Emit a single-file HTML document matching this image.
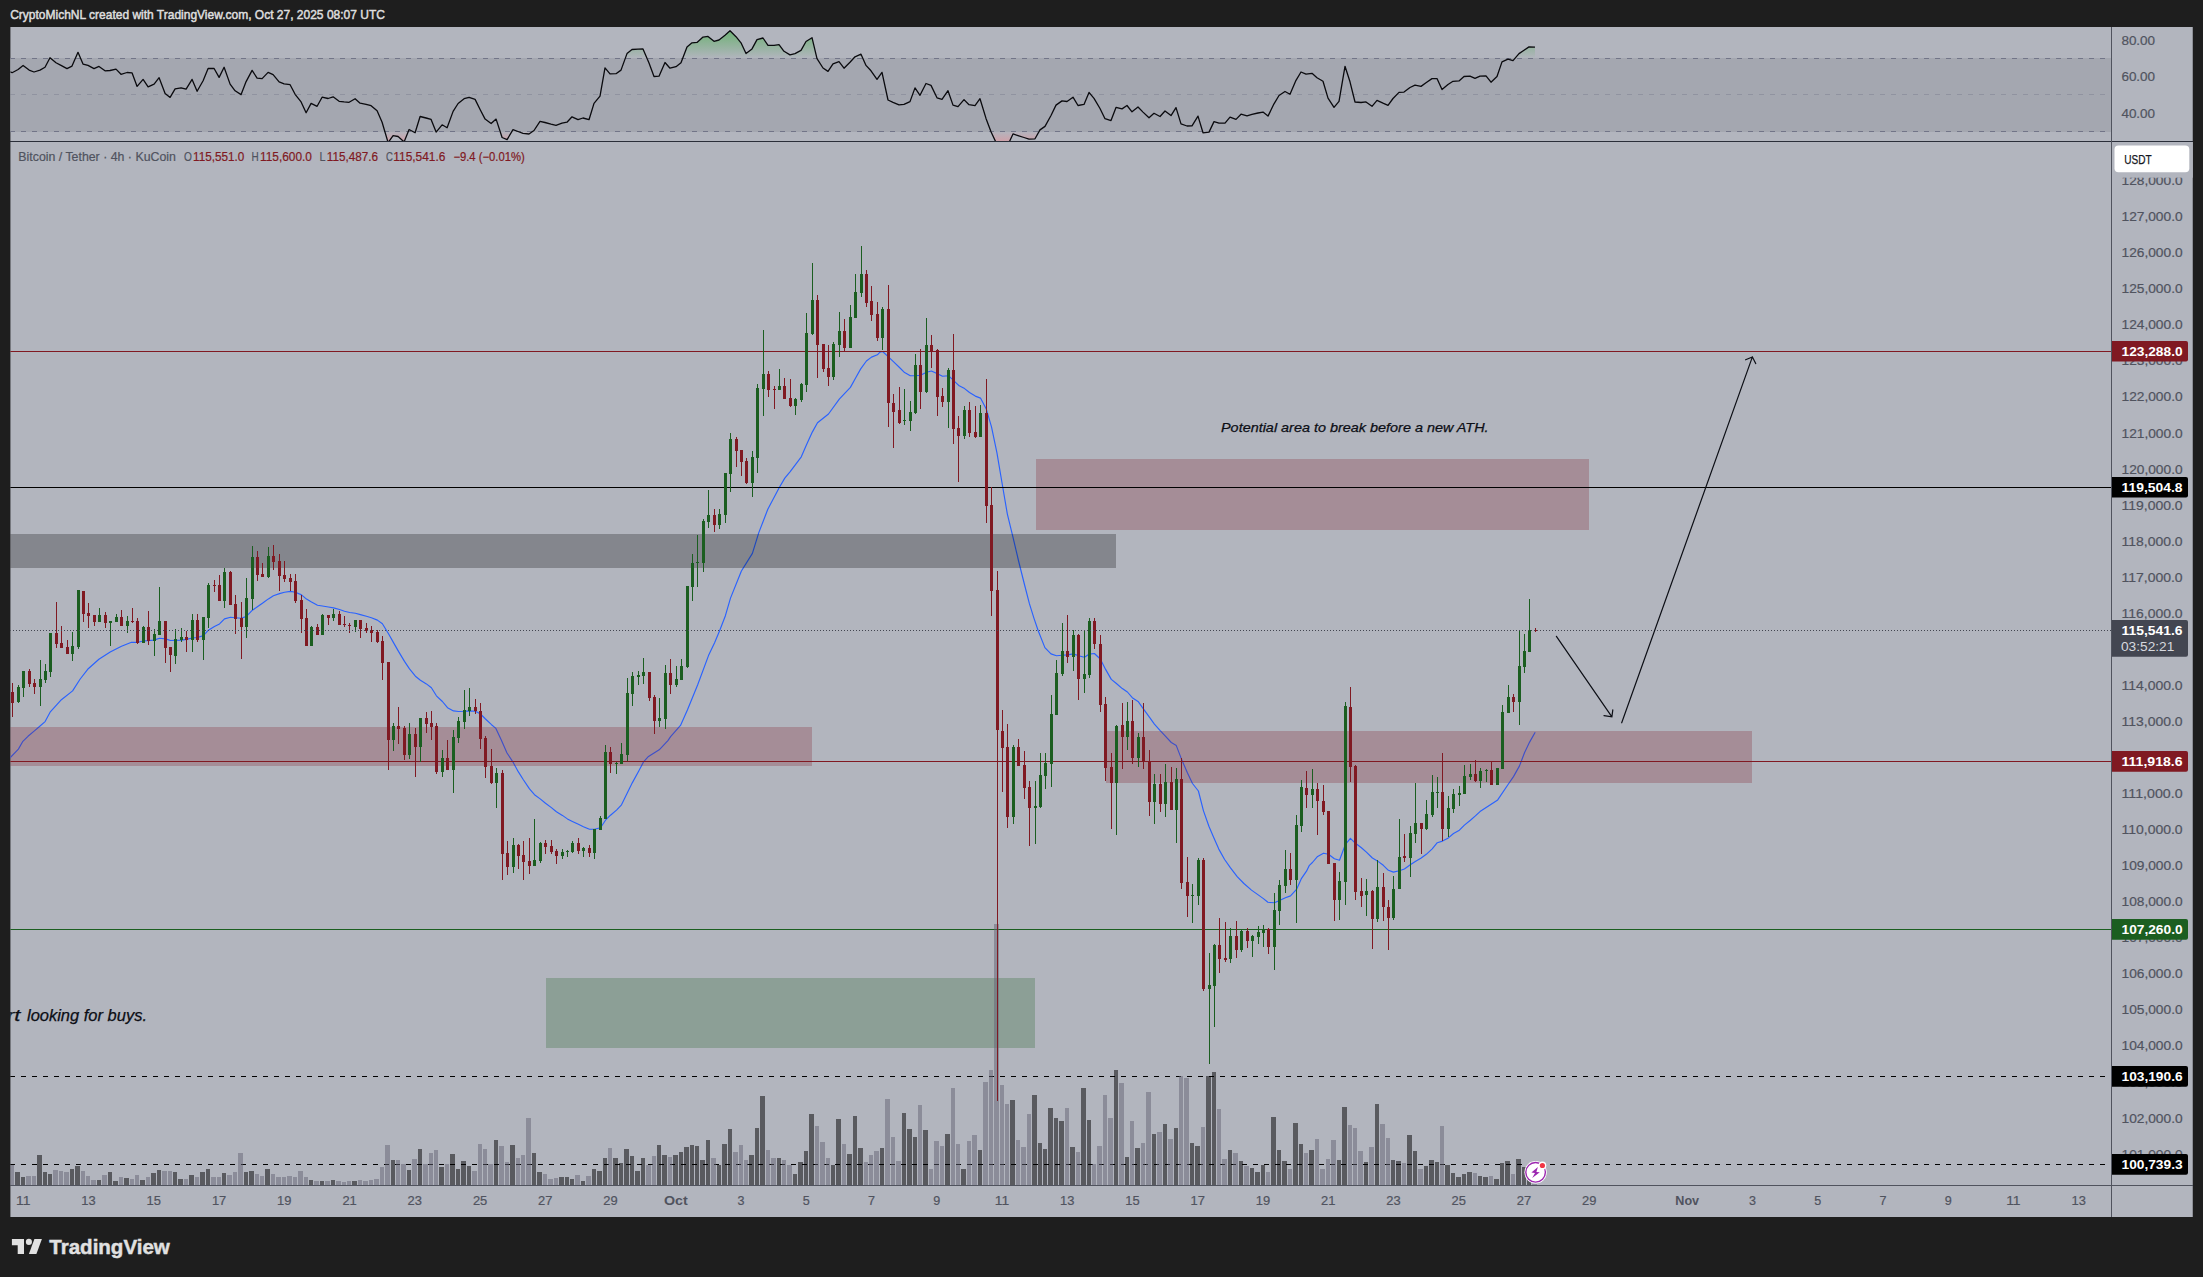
<!DOCTYPE html>
<html lang="en"><head><meta charset="utf-8"><title>BTCUSDT chart</title>
<style>
html,body{margin:0;padding:0;background:#1e1e1e;}
body{width:2203px;height:1277px;overflow:hidden;position:relative;font-family:'Liberation Sans', sans-serif;}
svg text{white-space:pre;}
</style></head><body>
<svg width="2203" height="1277" viewBox="0 0 2203 1277" style="position:absolute;left:0;top:0;display:block" font-family="'Liberation Sans', sans-serif">
<defs>
<clipPath id="cpMain"><rect x="10.4" y="142" width="2100.6" height="1043"/></clipPath>
<clipPath id="cpRsi"><rect x="10.4" y="27" width="2100.6" height="114"/></clipPath>
<clipPath id="cpOB"><rect x="10" y="27" width="2101" height="31.4"/></clipPath>
<clipPath id="cpOS"><rect x="10" y="131.4" width="2101" height="9.599999999999994"/></clipPath>
<linearGradient id="gOB" gradientUnits="userSpaceOnUse" x1="0" y1="27" x2="0" y2="58.4"><stop offset="0" stop-color="#4caf50" stop-opacity="0.75"/><stop offset="1" stop-color="#4caf50" stop-opacity="0"/></linearGradient>
<linearGradient id="gOS" gradientUnits="userSpaceOnUse" x1="0" y1="131.4" x2="0" y2="142"><stop offset="0" stop-color="#f08a92" stop-opacity="0"/><stop offset="1" stop-color="#f08a92" stop-opacity="0.5"/></linearGradient>
</defs>
<rect x="10.4" y="27" width="2182.35" height="1190" fill="#b2b5be"/>
<g clip-path="url(#cpRsi)">
<rect x="10" y="58" width="2101" height="74" fill="#a4a7b0"/>
<polygon clip-path="url(#cpOB)" points="10,58.4 10.0,71.9 12.1,72.7 18.1,69.5 23.1,65.4 29.1,70.1 34.0,72.0 40.0,70.1 45.0,67.3 50.0,57.8 56.0,62.7 61.0,65.4 67.0,68.6 72.0,66.1 78.0,52.3 83.0,64.1 88.0,65.4 94.0,68.6 99.0,66.4 105.0,70.8 110.0,70.5 116.0,69.1 121.0,74.3 127.0,72.5 132.1,72.9 137.1,86.4 143.1,79.4 148.1,86.9 154.1,84.1 159.1,77.7 165.1,93.4 170.1,97.4 175.1,88.9 181.1,87.9 186.1,89.2 192.1,79.4 197.1,91.3 203.1,80.7 208.1,68.5 214.1,68.5 219.1,77.4 224.1,67.3 230.1,84.1 235.1,90.8 241.1,94.6 246.1,81.6 252.1,70.4 257.1,78.1 262.1,78.6 268.1,72.4 273.1,74.6 279.1,81.8 284.1,83.9 290.1,84.7 295.1,94.3 301.1,101.9 306.1,112.7 311.1,103.4 317.1,106.3 322.1,97.2 328.1,98.5 333.1,96.8 339.1,101.3 344.1,101.9 349.1,102.3 355.1,98.7 360.1,103.2 366.1,104.4 371.1,105.7 377.1,110.8 382.1,122.2 388.1,142.6 393.1,135.6 398.1,136.5 404.1,141.9 409.1,129.5 415.1,132.7 420.1,116.5 426.1,118.0 431.1,119.4 436.1,132.1 442.1,124.8 447.1,127.7 453.1,111.4 458.1,103.5 464.1,98.7 469.1,97.4 475.1,99.4 480.1,109.5 485.1,119.1 491.1,123.5 496.1,119.1 502.1,137.5 507.1,139.6 513.0,129.6 518.0,131.5 523.0,133.3 529.0,134.0 534.0,130.5 540.0,121.3 545.0,122.5 551.0,124.1 556.0,125.3 562.0,123.2 567.0,122.2 572.0,116.8 578.0,119.7 583.0,118.0 589.0,119.7 594.0,103.4 600.0,96.2 605.0,67.8 610.0,73.9 616.0,73.7 621.0,70.1 627.0,53.6 632.0,49.5 638.0,49.1 643.0,48.9 649.0,63.1 654.0,76.5 659.0,76.2 665.0,62.5 670.0,68.2 676.0,66.7 681.0,62.7 687.0,46.9 692.0,42.8 697.0,42.4 703.0,37.1 708.0,36.4 714.0,41.3 719.0,40.0 725.0,35.2 730.0,30.7 736.0,36.7 741.0,42.8 746.0,53.6 752.0,48.9 757.0,39.6 763.0,38.0 768.0,45.3 774.0,45.3 779.0,44.7 784.0,51.3 790.0,54.9 795.0,53.6 801.0,50.4 806.0,41.5 812.0,37.7 817.0,58.7 823.0,68.0 828.0,71.4 833.0,63.8 839.0,61.6 844.0,68.2 850.0,62.2 855.0,56.8 861.0,54.2 866.0,65.4 871.0,70.8 877.0,79.4 882.0,72.4 888.0,100.0 893.0,102.3 899.0,104.8 904.0,104.4 910.0,101.6 915.0,87.9 920.0,95.3 926.0,83.5 931.0,85.4 937.0,97.8 942.0,99.4 948.0,90.7 953.0,105.1 958.0,106.7 964.0,99.6 969.0,104.7 975.0,105.7 980.0,98.7 986.0,118.4 991.0,131.8 997.0,144.5 1002.0,152.1 1007.0,147.0 1013.0,133.9 1018.0,135.6 1024.0,137.5 1029.0,139.1 1035.0,138.8 1040.0,129.9 1045.0,126.4 1051.0,115.5 1056.0,105.1 1062.0,100.9 1067.0,101.5 1073.0,97.2 1078.0,105.5 1084.0,104.4 1089.0,92.4 1094.0,98.4 1100.0,108.5 1105.0,118.7 1111.0,120.6 1116.0,107.4 1122.0,108.9 1127.0,105.5 1132.0,111.8 1138.0,107.0 1143.0,112.1 1149.0,117.8 1154.0,113.3 1160.0,116.5 1165.0,111.0 1171.0,115.6 1176.0,107.6 1181.0,123.9 1187.0,126.0 1192.0,125.8 1198.0,116.1 1203.0,132.8 1209.0,132.1 1214.0,121.6 1219.0,123.2 1225.0,123.2 1230.0,117.1 1236.0,119.4 1241.0,114.2 1247.0,115.9 1252.0,114.3 1258.0,113.0 1263.0,112.1 1268.0,116.1 1274.0,103.8 1279.0,95.5 1285.0,91.5 1290.0,94.3 1296.0,80.3 1301.0,72.0 1306.0,74.2 1312.0,73.3 1317.0,77.7 1323.0,81.3 1328.0,98.1 1334.0,107.4 1339.0,101.3 1345.0,66.3 1350.0,81.8 1355.0,102.0 1361.0,102.5 1366.0,101.9 1372.0,106.3 1377.0,100.4 1383.0,103.2 1388.0,105.3 1393.0,98.5 1399.0,92.4 1404.0,92.1 1410.0,87.5 1415.0,85.1 1421.0,86.4 1426.0,82.8 1432.0,78.6 1437.0,78.6 1442.0,89.6 1448.0,84.5 1453.0,81.3 1459.0,80.9 1464.0,76.5 1470.0,76.1 1475.0,78.4 1480.0,76.2 1486.0,75.8 1491.0,82.2 1497.0,76.5 1502.0,61.9 1508.0,59.1 1513.0,60.6 1519.0,53.6 1524.0,50.2 1529.0,46.9 1535.0,47.2 1535.0,58.4" fill="url(#gOB)"/>
<polygon clip-path="url(#cpOS)" points="10,131.4 10.0,71.9 12.1,72.7 18.1,69.5 23.1,65.4 29.1,70.1 34.0,72.0 40.0,70.1 45.0,67.3 50.0,57.8 56.0,62.7 61.0,65.4 67.0,68.6 72.0,66.1 78.0,52.3 83.0,64.1 88.0,65.4 94.0,68.6 99.0,66.4 105.0,70.8 110.0,70.5 116.0,69.1 121.0,74.3 127.0,72.5 132.1,72.9 137.1,86.4 143.1,79.4 148.1,86.9 154.1,84.1 159.1,77.7 165.1,93.4 170.1,97.4 175.1,88.9 181.1,87.9 186.1,89.2 192.1,79.4 197.1,91.3 203.1,80.7 208.1,68.5 214.1,68.5 219.1,77.4 224.1,67.3 230.1,84.1 235.1,90.8 241.1,94.6 246.1,81.6 252.1,70.4 257.1,78.1 262.1,78.6 268.1,72.4 273.1,74.6 279.1,81.8 284.1,83.9 290.1,84.7 295.1,94.3 301.1,101.9 306.1,112.7 311.1,103.4 317.1,106.3 322.1,97.2 328.1,98.5 333.1,96.8 339.1,101.3 344.1,101.9 349.1,102.3 355.1,98.7 360.1,103.2 366.1,104.4 371.1,105.7 377.1,110.8 382.1,122.2 388.1,142.6 393.1,135.6 398.1,136.5 404.1,141.9 409.1,129.5 415.1,132.7 420.1,116.5 426.1,118.0 431.1,119.4 436.1,132.1 442.1,124.8 447.1,127.7 453.1,111.4 458.1,103.5 464.1,98.7 469.1,97.4 475.1,99.4 480.1,109.5 485.1,119.1 491.1,123.5 496.1,119.1 502.1,137.5 507.1,139.6 513.0,129.6 518.0,131.5 523.0,133.3 529.0,134.0 534.0,130.5 540.0,121.3 545.0,122.5 551.0,124.1 556.0,125.3 562.0,123.2 567.0,122.2 572.0,116.8 578.0,119.7 583.0,118.0 589.0,119.7 594.0,103.4 600.0,96.2 605.0,67.8 610.0,73.9 616.0,73.7 621.0,70.1 627.0,53.6 632.0,49.5 638.0,49.1 643.0,48.9 649.0,63.1 654.0,76.5 659.0,76.2 665.0,62.5 670.0,68.2 676.0,66.7 681.0,62.7 687.0,46.9 692.0,42.8 697.0,42.4 703.0,37.1 708.0,36.4 714.0,41.3 719.0,40.0 725.0,35.2 730.0,30.7 736.0,36.7 741.0,42.8 746.0,53.6 752.0,48.9 757.0,39.6 763.0,38.0 768.0,45.3 774.0,45.3 779.0,44.7 784.0,51.3 790.0,54.9 795.0,53.6 801.0,50.4 806.0,41.5 812.0,37.7 817.0,58.7 823.0,68.0 828.0,71.4 833.0,63.8 839.0,61.6 844.0,68.2 850.0,62.2 855.0,56.8 861.0,54.2 866.0,65.4 871.0,70.8 877.0,79.4 882.0,72.4 888.0,100.0 893.0,102.3 899.0,104.8 904.0,104.4 910.0,101.6 915.0,87.9 920.0,95.3 926.0,83.5 931.0,85.4 937.0,97.8 942.0,99.4 948.0,90.7 953.0,105.1 958.0,106.7 964.0,99.6 969.0,104.7 975.0,105.7 980.0,98.7 986.0,118.4 991.0,131.8 997.0,144.5 1002.0,152.1 1007.0,147.0 1013.0,133.9 1018.0,135.6 1024.0,137.5 1029.0,139.1 1035.0,138.8 1040.0,129.9 1045.0,126.4 1051.0,115.5 1056.0,105.1 1062.0,100.9 1067.0,101.5 1073.0,97.2 1078.0,105.5 1084.0,104.4 1089.0,92.4 1094.0,98.4 1100.0,108.5 1105.0,118.7 1111.0,120.6 1116.0,107.4 1122.0,108.9 1127.0,105.5 1132.0,111.8 1138.0,107.0 1143.0,112.1 1149.0,117.8 1154.0,113.3 1160.0,116.5 1165.0,111.0 1171.0,115.6 1176.0,107.6 1181.0,123.9 1187.0,126.0 1192.0,125.8 1198.0,116.1 1203.0,132.8 1209.0,132.1 1214.0,121.6 1219.0,123.2 1225.0,123.2 1230.0,117.1 1236.0,119.4 1241.0,114.2 1247.0,115.9 1252.0,114.3 1258.0,113.0 1263.0,112.1 1268.0,116.1 1274.0,103.8 1279.0,95.5 1285.0,91.5 1290.0,94.3 1296.0,80.3 1301.0,72.0 1306.0,74.2 1312.0,73.3 1317.0,77.7 1323.0,81.3 1328.0,98.1 1334.0,107.4 1339.0,101.3 1345.0,66.3 1350.0,81.8 1355.0,102.0 1361.0,102.5 1366.0,101.9 1372.0,106.3 1377.0,100.4 1383.0,103.2 1388.0,105.3 1393.0,98.5 1399.0,92.4 1404.0,92.1 1410.0,87.5 1415.0,85.1 1421.0,86.4 1426.0,82.8 1432.0,78.6 1437.0,78.6 1442.0,89.6 1448.0,84.5 1453.0,81.3 1459.0,80.9 1464.0,76.5 1470.0,76.1 1475.0,78.4 1480.0,76.2 1486.0,75.8 1491.0,82.2 1497.0,76.5 1502.0,61.9 1508.0,59.1 1513.0,60.6 1519.0,53.6 1524.0,50.2 1529.0,46.9 1535.0,47.2 1535.0,131.4" fill="url(#gOS)"/>
<line x1="10" y1="58.5" x2="2111" y2="58.5" stroke="#5d6078" stroke-opacity="0.7" stroke-width="1" stroke-dasharray="5 6" shape-rendering="crispEdges"/>
<line x1="10" y1="94.5" x2="2111" y2="94.5" stroke="#5d6078" stroke-opacity="0.28" stroke-width="1" stroke-dasharray="5 6" shape-rendering="crispEdges"/>
<line x1="10" y1="131.5" x2="2111" y2="131.5" stroke="#5d6078" stroke-opacity="0.7" stroke-width="1" stroke-dasharray="5 6" shape-rendering="crispEdges"/>
<polyline points="10.0,71.9 12.1,72.7 18.1,69.5 23.1,65.4 29.1,70.1 34.0,72.0 40.0,70.1 45.0,67.3 50.0,57.8 56.0,62.7 61.0,65.4 67.0,68.6 72.0,66.1 78.0,52.3 83.0,64.1 88.0,65.4 94.0,68.6 99.0,66.4 105.0,70.8 110.0,70.5 116.0,69.1 121.0,74.3 127.0,72.5 132.1,72.9 137.1,86.4 143.1,79.4 148.1,86.9 154.1,84.1 159.1,77.7 165.1,93.4 170.1,97.4 175.1,88.9 181.1,87.9 186.1,89.2 192.1,79.4 197.1,91.3 203.1,80.7 208.1,68.5 214.1,68.5 219.1,77.4 224.1,67.3 230.1,84.1 235.1,90.8 241.1,94.6 246.1,81.6 252.1,70.4 257.1,78.1 262.1,78.6 268.1,72.4 273.1,74.6 279.1,81.8 284.1,83.9 290.1,84.7 295.1,94.3 301.1,101.9 306.1,112.7 311.1,103.4 317.1,106.3 322.1,97.2 328.1,98.5 333.1,96.8 339.1,101.3 344.1,101.9 349.1,102.3 355.1,98.7 360.1,103.2 366.1,104.4 371.1,105.7 377.1,110.8 382.1,122.2 388.1,142.6 393.1,135.6 398.1,136.5 404.1,141.9 409.1,129.5 415.1,132.7 420.1,116.5 426.1,118.0 431.1,119.4 436.1,132.1 442.1,124.8 447.1,127.7 453.1,111.4 458.1,103.5 464.1,98.7 469.1,97.4 475.1,99.4 480.1,109.5 485.1,119.1 491.1,123.5 496.1,119.1 502.1,137.5 507.1,139.6 513.0,129.6 518.0,131.5 523.0,133.3 529.0,134.0 534.0,130.5 540.0,121.3 545.0,122.5 551.0,124.1 556.0,125.3 562.0,123.2 567.0,122.2 572.0,116.8 578.0,119.7 583.0,118.0 589.0,119.7 594.0,103.4 600.0,96.2 605.0,67.8 610.0,73.9 616.0,73.7 621.0,70.1 627.0,53.6 632.0,49.5 638.0,49.1 643.0,48.9 649.0,63.1 654.0,76.5 659.0,76.2 665.0,62.5 670.0,68.2 676.0,66.7 681.0,62.7 687.0,46.9 692.0,42.8 697.0,42.4 703.0,37.1 708.0,36.4 714.0,41.3 719.0,40.0 725.0,35.2 730.0,30.7 736.0,36.7 741.0,42.8 746.0,53.6 752.0,48.9 757.0,39.6 763.0,38.0 768.0,45.3 774.0,45.3 779.0,44.7 784.0,51.3 790.0,54.9 795.0,53.6 801.0,50.4 806.0,41.5 812.0,37.7 817.0,58.7 823.0,68.0 828.0,71.4 833.0,63.8 839.0,61.6 844.0,68.2 850.0,62.2 855.0,56.8 861.0,54.2 866.0,65.4 871.0,70.8 877.0,79.4 882.0,72.4 888.0,100.0 893.0,102.3 899.0,104.8 904.0,104.4 910.0,101.6 915.0,87.9 920.0,95.3 926.0,83.5 931.0,85.4 937.0,97.8 942.0,99.4 948.0,90.7 953.0,105.1 958.0,106.7 964.0,99.6 969.0,104.7 975.0,105.7 980.0,98.7 986.0,118.4 991.0,131.8 997.0,144.5 1002.0,152.1 1007.0,147.0 1013.0,133.9 1018.0,135.6 1024.0,137.5 1029.0,139.1 1035.0,138.8 1040.0,129.9 1045.0,126.4 1051.0,115.5 1056.0,105.1 1062.0,100.9 1067.0,101.5 1073.0,97.2 1078.0,105.5 1084.0,104.4 1089.0,92.4 1094.0,98.4 1100.0,108.5 1105.0,118.7 1111.0,120.6 1116.0,107.4 1122.0,108.9 1127.0,105.5 1132.0,111.8 1138.0,107.0 1143.0,112.1 1149.0,117.8 1154.0,113.3 1160.0,116.5 1165.0,111.0 1171.0,115.6 1176.0,107.6 1181.0,123.9 1187.0,126.0 1192.0,125.8 1198.0,116.1 1203.0,132.8 1209.0,132.1 1214.0,121.6 1219.0,123.2 1225.0,123.2 1230.0,117.1 1236.0,119.4 1241.0,114.2 1247.0,115.9 1252.0,114.3 1258.0,113.0 1263.0,112.1 1268.0,116.1 1274.0,103.8 1279.0,95.5 1285.0,91.5 1290.0,94.3 1296.0,80.3 1301.0,72.0 1306.0,74.2 1312.0,73.3 1317.0,77.7 1323.0,81.3 1328.0,98.1 1334.0,107.4 1339.0,101.3 1345.0,66.3 1350.0,81.8 1355.0,102.0 1361.0,102.5 1366.0,101.9 1372.0,106.3 1377.0,100.4 1383.0,103.2 1388.0,105.3 1393.0,98.5 1399.0,92.4 1404.0,92.1 1410.0,87.5 1415.0,85.1 1421.0,86.4 1426.0,82.8 1432.0,78.6 1437.0,78.6 1442.0,89.6 1448.0,84.5 1453.0,81.3 1459.0,80.9 1464.0,76.5 1470.0,76.1 1475.0,78.4 1480.0,76.2 1486.0,75.8 1491.0,82.2 1497.0,76.5 1502.0,61.9 1508.0,59.1 1513.0,60.6 1519.0,53.6 1524.0,50.2 1529.0,46.9 1535.0,47.2" fill="none" stroke="#0a0a0e" stroke-width="1.3" stroke-linejoin="round"/>
</g>
<g clip-path="url(#cpMain)">
<polyline points="8,760.1 10.3,757.5 18.4,749.1 22.6,741.7 28.0,736.3 34.4,730.9 39.5,726.5 45.1,721.6 50.1,712.2 61.4,699.7 72.6,690.9 80.2,679.0 87.7,669.3 98.9,659.2 110.2,652.0 121.5,646.2 131.5,642.3 137.8,642.3 143.4,641.0 154.1,640.1 159.5,638.3 165.5,638.9 170.5,640.5 181.5,640.1 186.5,639.4 192.4,638.0 197.4,637.5 203.4,635.6 208.4,630.2 214.4,626.5 219.5,623.9 224.5,618.9 230.5,617.3 235.5,617.7 241.4,618.2 246.4,616.4 252.4,610.2 257.4,606.7 262.4,603.3 268.4,598.9 273.4,595.8 279.5,593.6 284.5,592.3 290.5,591.4 295.5,592.3 301.5,594.9 306.5,599.1 311.5,602.0 317.5,605.2 322.4,606.0 328.4,607.0 333.5,607.9 339.5,609.5 344.5,611.2 349.7,612.5 355.4,613.3 360.4,614.6 366.4,616.3 371.4,617.8 377.4,620.1 382.4,623.8 388.5,633.8 393.5,642.6 398.5,651.4 404.5,661.4 409.5,668.9 415.4,676.2 420.4,680.2 426.4,683.9 431.4,687.7 436.4,695.8 442.4,701.5 447.5,707.7 453.5,710.9 458.5,711.5 464.5,711.3 469.5,710.9 475.5,711.3 480.5,714.0 485.5,719.0 491.5,724.7 495.9,728.4 501.3,740.0 507.0,753.0 513.5,762.9 518.4,771.9 523.2,779.5 529.5,788.9 534.5,794.7 540.5,799.1 545.5,803.3 551.4,807.6 556.4,811.8 562.4,815.4 567.4,818.9 572.4,821.4 578.4,824.3 583.4,826.7 589.5,829.3 594.5,829.2 600.5,827.7 605.5,820.2 610.5,815.2 616.5,810.1 621.5,804.8 627.5,792.6 632.4,782.6 638.9,770.7 643.5,761.9 648.5,756.4 659.2,749.8 667.9,740.6 670.6,736.7 680.5,725.4 687.5,709.7 697.6,685.0 708.5,655.6 714.6,642.7 719.5,631.0 725.4,615.7 730.5,598.1 741.4,571.0 752.4,553.4 758.7,532.9 767.8,509.2 779.3,487.5 784.8,478.1 790.2,471.6 801.3,456.8 806.4,445.0 812.3,432.1 817.5,422.7 828.5,414.0 839.3,399.2 850.4,387.4 855.6,378.0 860.7,368.9 866.4,361.0 871.5,357.1 877.4,354.8 880.0,352.2 882.6,351.5 888.4,356.9 893.4,361.6 899.5,367.5 904.6,372.6 910.3,375.7 915.5,375.7 920.6,375.2 926.5,372.2 931.4,371.0 937.5,373.8 942.5,376.2 948.4,375.7 953.5,380.4 959.2,385.8 964.6,388.6 969.5,392.5 975.3,396.1 980.5,398.1 986.4,409.3 991.5,426.9 996.9,452.7 1002.3,484.5 1007.3,513.8 1012.9,536.8 1018.7,561.5 1024.6,585.0 1029.4,603.7 1034.0,618.3 1038.3,631.0 1044.9,647.6 1051.0,653.9 1056.5,655.7 1062.3,655.2 1067.5,654.9 1073.4,653.9 1078.5,655.8 1084.4,657.3 1089.4,654.1 1094.4,653.5 1100.3,659.0 1105.6,669.4 1111.3,679.4 1116.4,683.5 1122.3,688.6 1127.4,692.0 1132.3,697.7 1138.4,701.8 1143.4,708.9 1149.4,717.2 1154.4,724.1 1160.2,730.7 1165.4,736.2 1171.3,742.5 1176.3,745.6 1181.4,758.9 1187.5,773.0 1192.5,783.5 1198.4,791.0 1203.4,810.6 1208.9,826.3 1213.6,837.3 1218.8,849.1 1224.6,859.5 1230.5,867.9 1237.2,876.7 1243.9,883.5 1251.5,890.1 1258.9,895.4 1263.4,898.6 1267.9,902.3 1274.4,902.8 1279.5,900.5 1285.4,897.7 1290.5,895.9 1296.5,889.4 1301.2,878.9 1306.5,871.2 1309.4,865.3 1312.4,862.5 1317.2,856.8 1323.5,853.2 1328.5,854.3 1334.4,858.7 1339.5,860.2 1345.4,844.4 1350.4,838.3 1355.5,843.3 1361.4,847.7 1366.4,852.1 1372.4,858.0 1377.4,860.9 1383.3,865.3 1388.4,870.3 1393.4,872.1 1399.3,870.7 1404.4,869.0 1410.3,864.8 1415.3,861.5 1421.2,858.0 1426.3,854.3 1432.2,848.8 1437.3,842.7 1442.5,841.1 1448.4,837.9 1453.5,833.5 1459.4,830.2 1464.4,825.1 1470.4,820.3 1475.4,815.9 1480.0,811.6 1497.7,799.9 1508.4,784.0 1513.5,776.6 1519.5,765.9 1524.5,752.7 1529.6,742.1 1535.2,732.2" fill="none" stroke="#2962ff" stroke-width="1.15" stroke-linejoin="round"/>
<g shape-rendering="crispEdges">
<rect x="10" y="534" width="1106" height="34" fill="#000" fill-opacity="0.26"/>
<rect x="10" y="727" width="802" height="39" fill="#801922" fill-opacity="0.25"/>
<rect x="1036" y="459" width="553" height="71" fill="#801922" fill-opacity="0.25"/>
<rect x="1106" y="731" width="646" height="52" fill="#801922" fill-opacity="0.25"/>
<rect x="546" y="978" width="489" height="70" fill="#1b5e20" fill-opacity="0.25"/>
<rect x="10" y="351" width="2101" height="1" fill="#801922"/>
<rect x="10" y="487" width="2101" height="1" fill="#000"/>
<rect x="10" y="761" width="2101" height="1" fill="#801922"/>
<rect x="10" y="929" width="2101" height="1" fill="#1b5e20"/>
<line x1="10" y1="1076.5" x2="2111" y2="1076.5" stroke="#000" stroke-width="1" stroke-dasharray="5 6"/>
<line x1="10" y1="1164.5" x2="2111" y2="1164.5" stroke="#000" stroke-width="1" stroke-dasharray="5 6"/>
</g>
<g shape-rendering="crispEdges">
<rect x="10" y="1165" width="4" height="20" fill="rgba(100,100,116,0.5)"/>
<rect x="15" y="1172" width="5" height="13" fill="rgba(0,0,0,0.5)"/>
<rect x="21" y="1177" width="4" height="8" fill="rgba(0,0,0,0.5)"/>
<rect x="26" y="1176" width="5" height="9" fill="rgba(100,100,116,0.5)"/>
<rect x="32" y="1176" width="4" height="9" fill="rgba(100,100,116,0.5)"/>
<rect x="37" y="1155" width="5" height="30" fill="rgba(0,0,0,0.5)"/>
<rect x="43" y="1172" width="4" height="13" fill="rgba(0,0,0,0.5)"/>
<rect x="48" y="1174" width="4" height="11" fill="rgba(0,0,0,0.5)"/>
<rect x="53" y="1170" width="5" height="15" fill="rgba(100,100,116,0.5)"/>
<rect x="59" y="1171" width="4" height="14" fill="rgba(100,100,116,0.5)"/>
<rect x="64" y="1172" width="5" height="13" fill="rgba(100,100,116,0.5)"/>
<rect x="70" y="1169" width="4" height="16" fill="rgba(0,0,0,0.5)"/>
<rect x="75" y="1166" width="5" height="19" fill="rgba(0,0,0,0.5)"/>
<rect x="81" y="1171" width="4" height="14" fill="rgba(100,100,116,0.5)"/>
<rect x="86" y="1176" width="4" height="9" fill="rgba(100,100,116,0.5)"/>
<rect x="91" y="1180" width="5" height="5" fill="rgba(100,100,116,0.5)"/>
<rect x="97" y="1180" width="4" height="5" fill="rgba(0,0,0,0.5)"/>
<rect x="102" y="1175" width="5" height="10" fill="rgba(100,100,116,0.5)"/>
<rect x="108" y="1172" width="4" height="13" fill="rgba(0,0,0,0.5)"/>
<rect x="113" y="1181" width="5" height="4" fill="rgba(0,0,0,0.5)"/>
<rect x="119" y="1177" width="4" height="8" fill="rgba(100,100,116,0.5)"/>
<rect x="124" y="1178" width="5" height="7" fill="rgba(0,0,0,0.5)"/>
<rect x="130" y="1179" width="4" height="6" fill="rgba(100,100,116,0.5)"/>
<rect x="135" y="1175" width="4" height="10" fill="rgba(100,100,116,0.5)"/>
<rect x="140" y="1180" width="5" height="5" fill="rgba(0,0,0,0.5)"/>
<rect x="146" y="1177" width="4" height="8" fill="rgba(100,100,116,0.5)"/>
<rect x="151" y="1173" width="5" height="12" fill="rgba(0,0,0,0.5)"/>
<rect x="157" y="1170" width="4" height="15" fill="rgba(0,0,0,0.5)"/>
<rect x="162" y="1171" width="5" height="14" fill="rgba(100,100,116,0.5)"/>
<rect x="168" y="1171" width="4" height="14" fill="rgba(100,100,116,0.5)"/>
<rect x="173" y="1172" width="4" height="13" fill="rgba(0,0,0,0.5)"/>
<rect x="178" y="1179" width="5" height="6" fill="rgba(0,0,0,0.5)"/>
<rect x="184" y="1179" width="4" height="6" fill="rgba(100,100,116,0.5)"/>
<rect x="189" y="1175" width="5" height="10" fill="rgba(0,0,0,0.5)"/>
<rect x="195" y="1177" width="4" height="8" fill="rgba(100,100,116,0.5)"/>
<rect x="200" y="1172" width="5" height="13" fill="rgba(0,0,0,0.5)"/>
<rect x="206" y="1169" width="4" height="16" fill="rgba(0,0,0,0.5)"/>
<rect x="211" y="1177" width="5" height="8" fill="rgba(100,100,116,0.5)"/>
<rect x="217" y="1177" width="4" height="8" fill="rgba(100,100,116,0.5)"/>
<rect x="222" y="1173" width="4" height="12" fill="rgba(0,0,0,0.5)"/>
<rect x="227" y="1175" width="5" height="10" fill="rgba(100,100,116,0.5)"/>
<rect x="233" y="1172" width="4" height="13" fill="rgba(100,100,116,0.5)"/>
<rect x="238" y="1153" width="5" height="32" fill="rgba(100,100,116,0.5)"/>
<rect x="244" y="1172" width="4" height="13" fill="rgba(0,0,0,0.5)"/>
<rect x="249" y="1171" width="5" height="14" fill="rgba(0,0,0,0.5)"/>
<rect x="255" y="1174" width="4" height="11" fill="rgba(100,100,116,0.5)"/>
<rect x="260" y="1176" width="4" height="9" fill="rgba(100,100,116,0.5)"/>
<rect x="265" y="1169" width="5" height="16" fill="rgba(0,0,0,0.5)"/>
<rect x="271" y="1174" width="4" height="11" fill="rgba(100,100,116,0.5)"/>
<rect x="276" y="1177" width="5" height="8" fill="rgba(100,100,116,0.5)"/>
<rect x="282" y="1177" width="4" height="8" fill="rgba(100,100,116,0.5)"/>
<rect x="287" y="1176" width="5" height="9" fill="rgba(100,100,116,0.5)"/>
<rect x="293" y="1177" width="4" height="8" fill="rgba(100,100,116,0.5)"/>
<rect x="298" y="1171" width="5" height="14" fill="rgba(100,100,116,0.5)"/>
<rect x="304" y="1177" width="4" height="8" fill="rgba(100,100,116,0.5)"/>
<rect x="309" y="1180" width="4" height="5" fill="rgba(0,0,0,0.5)"/>
<rect x="314" y="1181" width="5" height="4" fill="rgba(100,100,116,0.5)"/>
<rect x="320" y="1181" width="4" height="4" fill="rgba(0,0,0,0.5)"/>
<rect x="325" y="1181" width="5" height="4" fill="rgba(100,100,116,0.5)"/>
<rect x="331" y="1180" width="4" height="5" fill="rgba(0,0,0,0.5)"/>
<rect x="336" y="1181" width="5" height="4" fill="rgba(100,100,116,0.5)"/>
<rect x="342" y="1182" width="4" height="3" fill="rgba(100,100,116,0.5)"/>
<rect x="347" y="1181" width="4" height="4" fill="rgba(100,100,116,0.5)"/>
<rect x="352" y="1181" width="5" height="4" fill="rgba(0,0,0,0.5)"/>
<rect x="358" y="1180" width="4" height="5" fill="rgba(100,100,116,0.5)"/>
<rect x="363" y="1181" width="5" height="4" fill="rgba(100,100,116,0.5)"/>
<rect x="369" y="1180" width="4" height="5" fill="rgba(100,100,116,0.5)"/>
<rect x="374" y="1179" width="5" height="6" fill="rgba(100,100,116,0.5)"/>
<rect x="380" y="1167" width="4" height="18" fill="rgba(100,100,116,0.5)"/>
<rect x="385" y="1145" width="5" height="40" fill="rgba(100,100,116,0.5)"/>
<rect x="391" y="1160" width="4" height="25" fill="rgba(0,0,0,0.5)"/>
<rect x="396" y="1160" width="4" height="25" fill="rgba(100,100,116,0.5)"/>
<rect x="401" y="1164" width="5" height="21" fill="rgba(100,100,116,0.5)"/>
<rect x="407" y="1170" width="4" height="15" fill="rgba(0,0,0,0.5)"/>
<rect x="412" y="1159" width="5" height="26" fill="rgba(100,100,116,0.5)"/>
<rect x="418" y="1149" width="4" height="36" fill="rgba(0,0,0,0.5)"/>
<rect x="423" y="1164" width="5" height="21" fill="rgba(100,100,116,0.5)"/>
<rect x="429" y="1153" width="4" height="32" fill="rgba(100,100,116,0.5)"/>
<rect x="434" y="1150" width="4" height="35" fill="rgba(100,100,116,0.5)"/>
<rect x="439" y="1167" width="5" height="18" fill="rgba(0,0,0,0.5)"/>
<rect x="445" y="1164" width="4" height="21" fill="rgba(100,100,116,0.5)"/>
<rect x="450" y="1154" width="5" height="31" fill="rgba(0,0,0,0.5)"/>
<rect x="456" y="1169" width="4" height="16" fill="rgba(0,0,0,0.5)"/>
<rect x="461" y="1161" width="5" height="24" fill="rgba(0,0,0,0.5)"/>
<rect x="467" y="1166" width="4" height="19" fill="rgba(0,0,0,0.5)"/>
<rect x="472" y="1171" width="5" height="14" fill="rgba(100,100,116,0.5)"/>
<rect x="478" y="1144" width="4" height="41" fill="rgba(100,100,116,0.5)"/>
<rect x="483" y="1149" width="4" height="36" fill="rgba(100,100,116,0.5)"/>
<rect x="488" y="1164" width="5" height="21" fill="rgba(100,100,116,0.5)"/>
<rect x="494" y="1140" width="4" height="45" fill="rgba(0,0,0,0.5)"/>
<rect x="499" y="1146" width="5" height="39" fill="rgba(100,100,116,0.5)"/>
<rect x="505" y="1162" width="4" height="23" fill="rgba(100,100,116,0.5)"/>
<rect x="510" y="1145" width="5" height="40" fill="rgba(0,0,0,0.5)"/>
<rect x="516" y="1158" width="4" height="27" fill="rgba(100,100,116,0.5)"/>
<rect x="521" y="1155" width="4" height="30" fill="rgba(100,100,116,0.5)"/>
<rect x="526" y="1118" width="5" height="67" fill="rgba(100,100,116,0.5)"/>
<rect x="532" y="1153" width="4" height="32" fill="rgba(0,0,0,0.5)"/>
<rect x="537" y="1172" width="5" height="13" fill="rgba(0,0,0,0.5)"/>
<rect x="543" y="1174" width="4" height="11" fill="rgba(100,100,116,0.5)"/>
<rect x="548" y="1179" width="5" height="6" fill="rgba(100,100,116,0.5)"/>
<rect x="554" y="1178" width="4" height="7" fill="rgba(100,100,116,0.5)"/>
<rect x="559" y="1177" width="5" height="8" fill="rgba(0,0,0,0.5)"/>
<rect x="565" y="1177" width="4" height="8" fill="rgba(0,0,0,0.5)"/>
<rect x="570" y="1179" width="4" height="6" fill="rgba(0,0,0,0.5)"/>
<rect x="575" y="1175" width="5" height="10" fill="rgba(100,100,116,0.5)"/>
<rect x="581" y="1181" width="4" height="4" fill="rgba(0,0,0,0.5)"/>
<rect x="586" y="1176" width="5" height="9" fill="rgba(100,100,116,0.5)"/>
<rect x="592" y="1169" width="4" height="16" fill="rgba(0,0,0,0.5)"/>
<rect x="597" y="1171" width="5" height="14" fill="rgba(0,0,0,0.5)"/>
<rect x="603" y="1158" width="4" height="27" fill="rgba(0,0,0,0.5)"/>
<rect x="608" y="1148" width="4" height="37" fill="rgba(100,100,116,0.5)"/>
<rect x="613" y="1158" width="5" height="27" fill="rgba(0,0,0,0.5)"/>
<rect x="619" y="1163" width="4" height="22" fill="rgba(0,0,0,0.5)"/>
<rect x="624" y="1149" width="5" height="36" fill="rgba(0,0,0,0.5)"/>
<rect x="630" y="1156" width="4" height="29" fill="rgba(0,0,0,0.5)"/>
<rect x="635" y="1171" width="5" height="14" fill="rgba(0,0,0,0.5)"/>
<rect x="641" y="1158" width="4" height="27" fill="rgba(0,0,0,0.5)"/>
<rect x="646" y="1165" width="5" height="20" fill="rgba(100,100,116,0.5)"/>
<rect x="652" y="1156" width="4" height="29" fill="rgba(100,100,116,0.5)"/>
<rect x="657" y="1145" width="4" height="40" fill="rgba(0,0,0,0.5)"/>
<rect x="662" y="1155" width="5" height="30" fill="rgba(0,0,0,0.5)"/>
<rect x="668" y="1157" width="4" height="28" fill="rgba(100,100,116,0.5)"/>
<rect x="673" y="1155" width="5" height="30" fill="rgba(0,0,0,0.5)"/>
<rect x="679" y="1152" width="4" height="33" fill="rgba(0,0,0,0.5)"/>
<rect x="684" y="1147" width="5" height="38" fill="rgba(0,0,0,0.5)"/>
<rect x="690" y="1145" width="4" height="40" fill="rgba(0,0,0,0.5)"/>
<rect x="695" y="1146" width="4" height="39" fill="rgba(0,0,0,0.5)"/>
<rect x="700" y="1160" width="5" height="25" fill="rgba(0,0,0,0.5)"/>
<rect x="706" y="1140" width="4" height="45" fill="rgba(0,0,0,0.5)"/>
<rect x="711" y="1158" width="5" height="27" fill="rgba(100,100,116,0.5)"/>
<rect x="717" y="1165" width="4" height="20" fill="rgba(0,0,0,0.5)"/>
<rect x="722" y="1144" width="5" height="41" fill="rgba(0,0,0,0.5)"/>
<rect x="728" y="1129" width="4" height="56" fill="rgba(0,0,0,0.5)"/>
<rect x="733" y="1152" width="5" height="33" fill="rgba(100,100,116,0.5)"/>
<rect x="739" y="1145" width="4" height="40" fill="rgba(100,100,116,0.5)"/>
<rect x="744" y="1160" width="4" height="25" fill="rgba(100,100,116,0.5)"/>
<rect x="749" y="1155" width="5" height="30" fill="rgba(0,0,0,0.5)"/>
<rect x="755" y="1128" width="4" height="57" fill="rgba(0,0,0,0.5)"/>
<rect x="760" y="1096" width="5" height="89" fill="rgba(0,0,0,0.5)"/>
<rect x="766" y="1150" width="4" height="35" fill="rgba(100,100,116,0.5)"/>
<rect x="771" y="1158" width="5" height="27" fill="rgba(100,100,116,0.5)"/>
<rect x="777" y="1158" width="4" height="27" fill="rgba(0,0,0,0.5)"/>
<rect x="782" y="1160" width="4" height="25" fill="rgba(100,100,116,0.5)"/>
<rect x="787" y="1165" width="5" height="20" fill="rgba(100,100,116,0.5)"/>
<rect x="793" y="1174" width="4" height="11" fill="rgba(0,0,0,0.5)"/>
<rect x="798" y="1162" width="5" height="23" fill="rgba(0,0,0,0.5)"/>
<rect x="804" y="1151" width="4" height="34" fill="rgba(0,0,0,0.5)"/>
<rect x="809" y="1114" width="5" height="71" fill="rgba(0,0,0,0.5)"/>
<rect x="815" y="1126" width="4" height="59" fill="rgba(100,100,116,0.5)"/>
<rect x="820" y="1142" width="5" height="43" fill="rgba(100,100,116,0.5)"/>
<rect x="826" y="1158" width="4" height="27" fill="rgba(100,100,116,0.5)"/>
<rect x="831" y="1165" width="4" height="20" fill="rgba(0,0,0,0.5)"/>
<rect x="836" y="1119" width="5" height="66" fill="rgba(0,0,0,0.5)"/>
<rect x="842" y="1144" width="4" height="41" fill="rgba(100,100,116,0.5)"/>
<rect x="847" y="1154" width="5" height="31" fill="rgba(0,0,0,0.5)"/>
<rect x="853" y="1116" width="4" height="69" fill="rgba(0,0,0,0.5)"/>
<rect x="858" y="1148" width="5" height="37" fill="rgba(0,0,0,0.5)"/>
<rect x="864" y="1162" width="4" height="23" fill="rgba(100,100,116,0.5)"/>
<rect x="869" y="1155" width="4" height="30" fill="rgba(100,100,116,0.5)"/>
<rect x="874" y="1151" width="5" height="34" fill="rgba(100,100,116,0.5)"/>
<rect x="880" y="1148" width="4" height="37" fill="rgba(0,0,0,0.5)"/>
<rect x="885" y="1099" width="5" height="86" fill="rgba(100,100,116,0.5)"/>
<rect x="891" y="1137" width="4" height="48" fill="rgba(100,100,116,0.5)"/>
<rect x="896" y="1161" width="5" height="24" fill="rgba(100,100,116,0.5)"/>
<rect x="902" y="1113" width="4" height="72" fill="rgba(0,0,0,0.5)"/>
<rect x="907" y="1129" width="5" height="56" fill="rgba(0,0,0,0.5)"/>
<rect x="913" y="1137" width="4" height="48" fill="rgba(0,0,0,0.5)"/>
<rect x="918" y="1105" width="4" height="80" fill="rgba(100,100,116,0.5)"/>
<rect x="923" y="1130" width="5" height="55" fill="rgba(0,0,0,0.5)"/>
<rect x="929" y="1169" width="4" height="16" fill="rgba(100,100,116,0.5)"/>
<rect x="934" y="1141" width="5" height="44" fill="rgba(100,100,116,0.5)"/>
<rect x="940" y="1146" width="4" height="39" fill="rgba(100,100,116,0.5)"/>
<rect x="945" y="1134" width="5" height="51" fill="rgba(0,0,0,0.5)"/>
<rect x="951" y="1088" width="4" height="97" fill="rgba(100,100,116,0.5)"/>
<rect x="956" y="1144" width="4" height="41" fill="rgba(100,100,116,0.5)"/>
<rect x="961" y="1169" width="5" height="16" fill="rgba(0,0,0,0.5)"/>
<rect x="967" y="1141" width="4" height="44" fill="rgba(100,100,116,0.5)"/>
<rect x="972" y="1135" width="5" height="50" fill="rgba(100,100,116,0.5)"/>
<rect x="978" y="1150" width="4" height="35" fill="rgba(0,0,0,0.5)"/>
<rect x="983" y="1082" width="5" height="103" fill="rgba(100,100,116,0.5)"/>
<rect x="989" y="1070" width="4" height="115" fill="rgba(100,100,116,0.5)"/>
<rect x="994" y="924" width="5" height="261" fill="rgba(100,100,116,0.5)"/>
<rect x="1000" y="1085" width="4" height="100" fill="rgba(100,100,116,0.5)"/>
<rect x="1005" y="1104" width="4" height="81" fill="rgba(100,100,116,0.5)"/>
<rect x="1010" y="1100" width="5" height="85" fill="rgba(0,0,0,0.5)"/>
<rect x="1016" y="1140" width="4" height="45" fill="rgba(100,100,116,0.5)"/>
<rect x="1021" y="1147" width="5" height="38" fill="rgba(100,100,116,0.5)"/>
<rect x="1027" y="1114" width="4" height="71" fill="rgba(100,100,116,0.5)"/>
<rect x="1032" y="1095" width="5" height="90" fill="rgba(0,0,0,0.5)"/>
<rect x="1038" y="1143" width="4" height="42" fill="rgba(0,0,0,0.5)"/>
<rect x="1043" y="1149" width="4" height="36" fill="rgba(0,0,0,0.5)"/>
<rect x="1048" y="1108" width="5" height="77" fill="rgba(0,0,0,0.5)"/>
<rect x="1054" y="1118" width="4" height="67" fill="rgba(0,0,0,0.5)"/>
<rect x="1059" y="1121" width="5" height="64" fill="rgba(0,0,0,0.5)"/>
<rect x="1065" y="1108" width="4" height="77" fill="rgba(100,100,116,0.5)"/>
<rect x="1070" y="1147" width="5" height="38" fill="rgba(0,0,0,0.5)"/>
<rect x="1076" y="1152" width="4" height="33" fill="rgba(100,100,116,0.5)"/>
<rect x="1081" y="1088" width="5" height="97" fill="rgba(0,0,0,0.5)"/>
<rect x="1087" y="1120" width="4" height="65" fill="rgba(0,0,0,0.5)"/>
<rect x="1092" y="1164" width="4" height="21" fill="rgba(100,100,116,0.5)"/>
<rect x="1097" y="1146" width="5" height="39" fill="rgba(100,100,116,0.5)"/>
<rect x="1103" y="1095" width="4" height="90" fill="rgba(100,100,116,0.5)"/>
<rect x="1108" y="1118" width="5" height="67" fill="rgba(100,100,116,0.5)"/>
<rect x="1114" y="1070" width="4" height="115" fill="rgba(0,0,0,0.5)"/>
<rect x="1119" y="1083" width="5" height="102" fill="rgba(100,100,116,0.5)"/>
<rect x="1125" y="1157" width="4" height="28" fill="rgba(0,0,0,0.5)"/>
<rect x="1130" y="1121" width="4" height="64" fill="rgba(100,100,116,0.5)"/>
<rect x="1135" y="1148" width="5" height="37" fill="rgba(0,0,0,0.5)"/>
<rect x="1141" y="1143" width="4" height="42" fill="rgba(100,100,116,0.5)"/>
<rect x="1146" y="1092" width="5" height="93" fill="rgba(100,100,116,0.5)"/>
<rect x="1152" y="1134" width="4" height="51" fill="rgba(0,0,0,0.5)"/>
<rect x="1157" y="1132" width="5" height="53" fill="rgba(100,100,116,0.5)"/>
<rect x="1163" y="1124" width="4" height="61" fill="rgba(0,0,0,0.5)"/>
<rect x="1168" y="1139" width="5" height="46" fill="rgba(100,100,116,0.5)"/>
<rect x="1174" y="1128" width="4" height="57" fill="rgba(0,0,0,0.5)"/>
<rect x="1179" y="1076" width="4" height="109" fill="rgba(100,100,116,0.5)"/>
<rect x="1184" y="1078" width="5" height="107" fill="rgba(100,100,116,0.5)"/>
<rect x="1190" y="1143" width="4" height="42" fill="rgba(0,0,0,0.5)"/>
<rect x="1195" y="1146" width="5" height="39" fill="rgba(0,0,0,0.5)"/>
<rect x="1201" y="1127" width="4" height="58" fill="rgba(100,100,116,0.5)"/>
<rect x="1206" y="1076" width="5" height="109" fill="rgba(0,0,0,0.5)"/>
<rect x="1212" y="1072" width="4" height="113" fill="rgba(0,0,0,0.5)"/>
<rect x="1217" y="1109" width="4" height="76" fill="rgba(100,100,116,0.5)"/>
<rect x="1222" y="1159" width="5" height="26" fill="rgba(100,100,116,0.5)"/>
<rect x="1228" y="1150" width="4" height="35" fill="rgba(0,0,0,0.5)"/>
<rect x="1233" y="1153" width="5" height="32" fill="rgba(100,100,116,0.5)"/>
<rect x="1239" y="1161" width="4" height="24" fill="rgba(0,0,0,0.5)"/>
<rect x="1244" y="1166" width="5" height="19" fill="rgba(100,100,116,0.5)"/>
<rect x="1250" y="1168" width="4" height="17" fill="rgba(0,0,0,0.5)"/>
<rect x="1255" y="1172" width="5" height="13" fill="rgba(0,0,0,0.5)"/>
<rect x="1261" y="1165" width="4" height="20" fill="rgba(0,0,0,0.5)"/>
<rect x="1266" y="1172" width="4" height="13" fill="rgba(100,100,116,0.5)"/>
<rect x="1271" y="1117" width="5" height="68" fill="rgba(0,0,0,0.5)"/>
<rect x="1277" y="1150" width="4" height="35" fill="rgba(0,0,0,0.5)"/>
<rect x="1282" y="1161" width="5" height="24" fill="rgba(0,0,0,0.5)"/>
<rect x="1288" y="1169" width="4" height="16" fill="rgba(100,100,116,0.5)"/>
<rect x="1293" y="1123" width="5" height="62" fill="rgba(0,0,0,0.5)"/>
<rect x="1299" y="1144" width="4" height="41" fill="rgba(0,0,0,0.5)"/>
<rect x="1304" y="1153" width="4" height="32" fill="rgba(100,100,116,0.5)"/>
<rect x="1309" y="1150" width="5" height="35" fill="rgba(0,0,0,0.5)"/>
<rect x="1315" y="1139" width="4" height="46" fill="rgba(100,100,116,0.5)"/>
<rect x="1320" y="1169" width="5" height="16" fill="rgba(100,100,116,0.5)"/>
<rect x="1326" y="1159" width="4" height="26" fill="rgba(100,100,116,0.5)"/>
<rect x="1331" y="1140" width="5" height="45" fill="rgba(100,100,116,0.5)"/>
<rect x="1337" y="1160" width="4" height="25" fill="rgba(0,0,0,0.5)"/>
<rect x="1342" y="1107" width="5" height="78" fill="rgba(0,0,0,0.5)"/>
<rect x="1348" y="1125" width="4" height="60" fill="rgba(100,100,116,0.5)"/>
<rect x="1353" y="1128" width="4" height="57" fill="rgba(100,100,116,0.5)"/>
<rect x="1358" y="1151" width="5" height="34" fill="rgba(100,100,116,0.5)"/>
<rect x="1364" y="1162" width="4" height="23" fill="rgba(0,0,0,0.5)"/>
<rect x="1369" y="1147" width="5" height="38" fill="rgba(100,100,116,0.5)"/>
<rect x="1375" y="1104" width="4" height="81" fill="rgba(0,0,0,0.5)"/>
<rect x="1380" y="1124" width="5" height="61" fill="rgba(100,100,116,0.5)"/>
<rect x="1386" y="1138" width="4" height="47" fill="rgba(100,100,116,0.5)"/>
<rect x="1391" y="1160" width="4" height="25" fill="rgba(0,0,0,0.5)"/>
<rect x="1396" y="1161" width="5" height="24" fill="rgba(0,0,0,0.5)"/>
<rect x="1402" y="1163" width="4" height="22" fill="rgba(100,100,116,0.5)"/>
<rect x="1407" y="1135" width="5" height="50" fill="rgba(0,0,0,0.5)"/>
<rect x="1413" y="1151" width="4" height="34" fill="rgba(0,0,0,0.5)"/>
<rect x="1418" y="1169" width="5" height="16" fill="rgba(100,100,116,0.5)"/>
<rect x="1424" y="1166" width="4" height="19" fill="rgba(0,0,0,0.5)"/>
<rect x="1429" y="1160" width="5" height="25" fill="rgba(0,0,0,0.5)"/>
<rect x="1435" y="1162" width="4" height="23" fill="rgba(0,0,0,0.5)"/>
<rect x="1440" y="1126" width="4" height="59" fill="rgba(100,100,116,0.5)"/>
<rect x="1445" y="1165" width="5" height="20" fill="rgba(0,0,0,0.5)"/>
<rect x="1451" y="1173" width="4" height="12" fill="rgba(0,0,0,0.5)"/>
<rect x="1456" y="1177" width="5" height="8" fill="rgba(0,0,0,0.5)"/>
<rect x="1462" y="1174" width="4" height="11" fill="rgba(0,0,0,0.5)"/>
<rect x="1467" y="1172" width="5" height="13" fill="rgba(0,0,0,0.5)"/>
<rect x="1473" y="1173" width="4" height="12" fill="rgba(100,100,116,0.5)"/>
<rect x="1478" y="1176" width="4" height="9" fill="rgba(0,0,0,0.5)"/>
<rect x="1483" y="1177" width="5" height="8" fill="rgba(0,0,0,0.5)"/>
<rect x="1489" y="1176" width="4" height="9" fill="rgba(100,100,116,0.5)"/>
<rect x="1494" y="1179" width="5" height="6" fill="rgba(0,0,0,0.5)"/>
<rect x="1500" y="1163" width="4" height="22" fill="rgba(0,0,0,0.5)"/>
<rect x="1505" y="1161" width="5" height="24" fill="rgba(0,0,0,0.5)"/>
<rect x="1511" y="1174" width="4" height="11" fill="rgba(100,100,116,0.5)"/>
<rect x="1516" y="1159" width="5" height="26" fill="rgba(0,0,0,0.5)"/>
<rect x="1522" y="1167" width="4" height="18" fill="rgba(0,0,0,0.5)"/>
<rect x="1527" y="1179" width="4" height="6" fill="rgba(0,0,0,0.5)"/>
<rect x="1532" y="1184" width="5" height="1" fill="rgba(100,100,116,0.5)"/>
</g>
<g shape-rendering="crispEdges">
<rect x="12" y="683" width="1" height="34" fill="#801922"/>
<rect x="11" y="692" width="3" height="11" fill="#801922"/>
<rect x="18" y="685" width="1" height="18" fill="#1b5e20"/>
<rect x="17" y="687" width="3" height="15" fill="#1b5e20"/>
<rect x="23" y="671" width="1" height="26" fill="#1b5e20"/>
<rect x="22" y="671" width="3" height="17" fill="#1b5e20"/>
<rect x="29" y="669" width="1" height="18" fill="#801922"/>
<rect x="28" y="671" width="3" height="13" fill="#801922"/>
<rect x="34" y="679" width="1" height="15" fill="#801922"/>
<rect x="33" y="683" width="3" height="4" fill="#801922"/>
<rect x="40" y="660" width="1" height="46" fill="#1b5e20"/>
<rect x="39" y="679" width="3" height="8" fill="#1b5e20"/>
<rect x="45" y="664" width="1" height="19" fill="#1b5e20"/>
<rect x="44" y="671" width="3" height="9" fill="#1b5e20"/>
<rect x="50" y="633" width="1" height="44" fill="#1b5e20"/>
<rect x="49" y="633" width="3" height="39" fill="#1b5e20"/>
<rect x="56" y="602" width="1" height="46" fill="#801922"/>
<rect x="55" y="633" width="3" height="11" fill="#801922"/>
<rect x="61" y="626" width="1" height="22" fill="#801922"/>
<rect x="60" y="643" width="3" height="5" fill="#801922"/>
<rect x="67" y="640" width="1" height="14" fill="#801922"/>
<rect x="66" y="647" width="3" height="7" fill="#801922"/>
<rect x="72" y="632" width="1" height="29" fill="#1b5e20"/>
<rect x="71" y="646" width="3" height="8" fill="#1b5e20"/>
<rect x="78" y="590" width="1" height="59" fill="#1b5e20"/>
<rect x="77" y="590" width="3" height="57" fill="#1b5e20"/>
<rect x="83" y="591" width="1" height="31" fill="#801922"/>
<rect x="82" y="591" width="3" height="23" fill="#801922"/>
<rect x="88" y="603" width="1" height="25" fill="#801922"/>
<rect x="87" y="613" width="3" height="3" fill="#801922"/>
<rect x="94" y="615" width="1" height="11" fill="#801922"/>
<rect x="93" y="615" width="3" height="7" fill="#801922"/>
<rect x="99" y="608" width="1" height="14" fill="#1b5e20"/>
<rect x="98" y="615" width="3" height="7" fill="#1b5e20"/>
<rect x="105" y="612" width="1" height="16" fill="#801922"/>
<rect x="104" y="615" width="3" height="8" fill="#801922"/>
<rect x="110" y="621" width="1" height="25" fill="#1b5e20"/>
<rect x="109" y="621" width="3" height="2" fill="#1b5e20"/>
<rect x="116" y="614" width="1" height="8" fill="#1b5e20"/>
<rect x="115" y="617" width="3" height="5" fill="#1b5e20"/>
<rect x="121" y="610" width="1" height="16" fill="#801922"/>
<rect x="120" y="617" width="3" height="9" fill="#801922"/>
<rect x="127" y="616" width="1" height="17" fill="#1b5e20"/>
<rect x="126" y="621" width="3" height="5" fill="#1b5e20"/>
<rect x="132" y="608" width="1" height="15" fill="#801922"/>
<rect x="131" y="621" width="3" height="1" fill="#801922"/>
<rect x="137" y="618" width="1" height="26" fill="#801922"/>
<rect x="136" y="621" width="3" height="22" fill="#801922"/>
<rect x="143" y="626" width="1" height="17" fill="#1b5e20"/>
<rect x="142" y="627" width="3" height="16" fill="#1b5e20"/>
<rect x="148" y="611" width="1" height="34" fill="#801922"/>
<rect x="147" y="627" width="3" height="14" fill="#801922"/>
<rect x="154" y="629" width="1" height="27" fill="#1b5e20"/>
<rect x="153" y="634" width="3" height="7" fill="#1b5e20"/>
<rect x="159" y="587" width="1" height="48" fill="#1b5e20"/>
<rect x="158" y="621" width="3" height="14" fill="#1b5e20"/>
<rect x="165" y="621" width="1" height="42" fill="#801922"/>
<rect x="164" y="621" width="3" height="27" fill="#801922"/>
<rect x="170" y="647" width="1" height="25" fill="#801922"/>
<rect x="169" y="647" width="3" height="8" fill="#801922"/>
<rect x="175" y="629" width="1" height="35" fill="#1b5e20"/>
<rect x="174" y="639" width="3" height="17" fill="#1b5e20"/>
<rect x="181" y="628" width="1" height="14" fill="#1b5e20"/>
<rect x="180" y="637" width="3" height="3" fill="#1b5e20"/>
<rect x="186" y="631" width="1" height="21" fill="#801922"/>
<rect x="185" y="637" width="3" height="3" fill="#801922"/>
<rect x="192" y="614" width="1" height="38" fill="#1b5e20"/>
<rect x="191" y="620" width="3" height="20" fill="#1b5e20"/>
<rect x="197" y="614" width="1" height="28" fill="#801922"/>
<rect x="196" y="620" width="3" height="20" fill="#801922"/>
<rect x="203" y="617" width="1" height="43" fill="#1b5e20"/>
<rect x="202" y="617" width="3" height="23" fill="#1b5e20"/>
<rect x="208" y="583" width="1" height="45" fill="#1b5e20"/>
<rect x="207" y="585" width="3" height="33" fill="#1b5e20"/>
<rect x="214" y="580" width="1" height="12" fill="#801922"/>
<rect x="213" y="585" width="3" height="1" fill="#801922"/>
<rect x="219" y="575" width="1" height="26" fill="#801922"/>
<rect x="218" y="585" width="3" height="16" fill="#801922"/>
<rect x="224" y="568" width="1" height="40" fill="#1b5e20"/>
<rect x="223" y="572" width="3" height="29" fill="#1b5e20"/>
<rect x="230" y="571" width="1" height="34" fill="#801922"/>
<rect x="229" y="572" width="3" height="33" fill="#801922"/>
<rect x="235" y="595" width="1" height="39" fill="#801922"/>
<rect x="234" y="604" width="3" height="15" fill="#801922"/>
<rect x="241" y="602" width="1" height="57" fill="#801922"/>
<rect x="240" y="618" width="3" height="9" fill="#801922"/>
<rect x="246" y="578" width="1" height="60" fill="#1b5e20"/>
<rect x="245" y="598" width="3" height="29" fill="#1b5e20"/>
<rect x="252" y="546" width="1" height="64" fill="#1b5e20"/>
<rect x="251" y="557" width="3" height="42" fill="#1b5e20"/>
<rect x="257" y="551" width="1" height="30" fill="#801922"/>
<rect x="256" y="557" width="3" height="18" fill="#801922"/>
<rect x="262" y="563" width="1" height="14" fill="#801922"/>
<rect x="261" y="574" width="3" height="3" fill="#801922"/>
<rect x="268" y="547" width="1" height="31" fill="#1b5e20"/>
<rect x="267" y="556" width="3" height="21" fill="#1b5e20"/>
<rect x="273" y="545" width="1" height="25" fill="#801922"/>
<rect x="272" y="556" width="3" height="6" fill="#801922"/>
<rect x="279" y="554" width="1" height="37" fill="#801922"/>
<rect x="278" y="561" width="3" height="15" fill="#801922"/>
<rect x="284" y="561" width="1" height="21" fill="#801922"/>
<rect x="283" y="575" width="3" height="4" fill="#801922"/>
<rect x="290" y="574" width="1" height="17" fill="#801922"/>
<rect x="289" y="578" width="3" height="4" fill="#801922"/>
<rect x="295" y="574" width="1" height="29" fill="#801922"/>
<rect x="294" y="581" width="3" height="20" fill="#801922"/>
<rect x="301" y="595" width="1" height="38" fill="#801922"/>
<rect x="300" y="600" width="3" height="19" fill="#801922"/>
<rect x="306" y="609" width="1" height="37" fill="#801922"/>
<rect x="305" y="618" width="3" height="28" fill="#801922"/>
<rect x="311" y="626" width="1" height="20" fill="#1b5e20"/>
<rect x="310" y="627" width="3" height="19" fill="#1b5e20"/>
<rect x="317" y="624" width="1" height="11" fill="#801922"/>
<rect x="316" y="627" width="3" height="8" fill="#801922"/>
<rect x="322" y="614" width="1" height="21" fill="#1b5e20"/>
<rect x="321" y="615" width="3" height="20" fill="#1b5e20"/>
<rect x="328" y="615" width="1" height="10" fill="#801922"/>
<rect x="327" y="615" width="3" height="3" fill="#801922"/>
<rect x="333" y="609" width="1" height="12" fill="#1b5e20"/>
<rect x="332" y="614" width="3" height="4" fill="#1b5e20"/>
<rect x="339" y="611" width="1" height="14" fill="#801922"/>
<rect x="338" y="614" width="3" height="11" fill="#801922"/>
<rect x="344" y="616" width="1" height="11" fill="#801922"/>
<rect x="343" y="624" width="3" height="1" fill="#801922"/>
<rect x="349" y="623" width="1" height="10" fill="#801922"/>
<rect x="348" y="625" width="3" height="1" fill="#801922"/>
<rect x="355" y="620" width="1" height="12" fill="#1b5e20"/>
<rect x="354" y="620" width="3" height="7" fill="#1b5e20"/>
<rect x="360" y="620" width="1" height="18" fill="#801922"/>
<rect x="359" y="620" width="3" height="9" fill="#801922"/>
<rect x="366" y="623" width="1" height="10" fill="#801922"/>
<rect x="365" y="628" width="3" height="3" fill="#801922"/>
<rect x="371" y="626" width="1" height="16" fill="#801922"/>
<rect x="370" y="630" width="3" height="3" fill="#801922"/>
<rect x="377" y="630" width="1" height="13" fill="#801922"/>
<rect x="376" y="632" width="3" height="10" fill="#801922"/>
<rect x="382" y="636" width="1" height="44" fill="#801922"/>
<rect x="381" y="641" width="3" height="22" fill="#801922"/>
<rect x="388" y="662" width="1" height="108" fill="#801922"/>
<rect x="387" y="662" width="3" height="78" fill="#801922"/>
<rect x="393" y="723" width="1" height="28" fill="#1b5e20"/>
<rect x="392" y="726" width="3" height="14" fill="#1b5e20"/>
<rect x="398" y="707" width="1" height="37" fill="#801922"/>
<rect x="397" y="726" width="3" height="3" fill="#801922"/>
<rect x="404" y="726" width="1" height="34" fill="#801922"/>
<rect x="403" y="728" width="3" height="27" fill="#801922"/>
<rect x="409" y="723" width="1" height="36" fill="#1b5e20"/>
<rect x="408" y="734" width="3" height="21" fill="#1b5e20"/>
<rect x="415" y="728" width="1" height="49" fill="#801922"/>
<rect x="414" y="734" width="3" height="13" fill="#801922"/>
<rect x="420" y="718" width="1" height="44" fill="#1b5e20"/>
<rect x="419" y="718" width="3" height="29" fill="#1b5e20"/>
<rect x="426" y="712" width="1" height="21" fill="#801922"/>
<rect x="425" y="718" width="3" height="6" fill="#801922"/>
<rect x="431" y="711" width="1" height="29" fill="#801922"/>
<rect x="430" y="723" width="3" height="4" fill="#801922"/>
<rect x="436" y="723" width="1" height="51" fill="#801922"/>
<rect x="435" y="726" width="3" height="46" fill="#801922"/>
<rect x="442" y="750" width="1" height="27" fill="#1b5e20"/>
<rect x="441" y="758" width="3" height="14" fill="#1b5e20"/>
<rect x="447" y="740" width="1" height="30" fill="#801922"/>
<rect x="446" y="758" width="3" height="12" fill="#801922"/>
<rect x="453" y="730" width="1" height="63" fill="#1b5e20"/>
<rect x="452" y="737" width="3" height="33" fill="#1b5e20"/>
<rect x="458" y="717" width="1" height="26" fill="#1b5e20"/>
<rect x="457" y="721" width="3" height="17" fill="#1b5e20"/>
<rect x="464" y="690" width="1" height="39" fill="#1b5e20"/>
<rect x="463" y="710" width="3" height="12" fill="#1b5e20"/>
<rect x="469" y="688" width="1" height="28" fill="#1b5e20"/>
<rect x="468" y="707" width="3" height="4" fill="#1b5e20"/>
<rect x="475" y="699" width="1" height="15" fill="#801922"/>
<rect x="474" y="707" width="3" height="4" fill="#801922"/>
<rect x="480" y="703" width="1" height="46" fill="#801922"/>
<rect x="479" y="711" width="3" height="28" fill="#801922"/>
<rect x="485" y="736" width="1" height="42" fill="#801922"/>
<rect x="484" y="738" width="3" height="29" fill="#801922"/>
<rect x="491" y="749" width="1" height="35" fill="#801922"/>
<rect x="490" y="766" width="3" height="17" fill="#801922"/>
<rect x="496" y="768" width="1" height="40" fill="#1b5e20"/>
<rect x="495" y="773" width="3" height="10" fill="#1b5e20"/>
<rect x="502" y="770" width="1" height="110" fill="#801922"/>
<rect x="501" y="773" width="3" height="81" fill="#801922"/>
<rect x="507" y="841" width="1" height="34" fill="#801922"/>
<rect x="506" y="853" width="3" height="14" fill="#801922"/>
<rect x="513" y="838" width="1" height="35" fill="#1b5e20"/>
<rect x="512" y="845" width="3" height="22" fill="#1b5e20"/>
<rect x="518" y="844" width="1" height="25" fill="#801922"/>
<rect x="517" y="845" width="3" height="11" fill="#801922"/>
<rect x="523" y="841" width="1" height="39" fill="#801922"/>
<rect x="522" y="855" width="3" height="7" fill="#801922"/>
<rect x="529" y="838" width="1" height="36" fill="#801922"/>
<rect x="528" y="861" width="3" height="5" fill="#801922"/>
<rect x="534" y="819" width="1" height="47" fill="#1b5e20"/>
<rect x="533" y="860" width="3" height="6" fill="#1b5e20"/>
<rect x="540" y="842" width="1" height="21" fill="#1b5e20"/>
<rect x="539" y="843" width="3" height="18" fill="#1b5e20"/>
<rect x="545" y="840" width="1" height="14" fill="#801922"/>
<rect x="544" y="843" width="3" height="4" fill="#801922"/>
<rect x="551" y="840" width="1" height="14" fill="#801922"/>
<rect x="550" y="846" width="3" height="6" fill="#801922"/>
<rect x="556" y="849" width="1" height="15" fill="#801922"/>
<rect x="555" y="851" width="3" height="5" fill="#801922"/>
<rect x="562" y="849" width="1" height="10" fill="#1b5e20"/>
<rect x="561" y="852" width="3" height="4" fill="#1b5e20"/>
<rect x="567" y="850" width="1" height="7" fill="#1b5e20"/>
<rect x="566" y="851" width="3" height="1" fill="#1b5e20"/>
<rect x="572" y="841" width="1" height="12" fill="#1b5e20"/>
<rect x="571" y="843" width="3" height="9" fill="#1b5e20"/>
<rect x="578" y="838" width="1" height="16" fill="#801922"/>
<rect x="577" y="843" width="3" height="8" fill="#801922"/>
<rect x="583" y="847" width="1" height="10" fill="#1b5e20"/>
<rect x="582" y="848" width="3" height="3" fill="#1b5e20"/>
<rect x="589" y="845" width="1" height="12" fill="#801922"/>
<rect x="588" y="848" width="3" height="5" fill="#801922"/>
<rect x="594" y="829" width="1" height="30" fill="#1b5e20"/>
<rect x="593" y="829" width="3" height="24" fill="#1b5e20"/>
<rect x="600" y="816" width="1" height="14" fill="#1b5e20"/>
<rect x="599" y="818" width="3" height="12" fill="#1b5e20"/>
<rect x="605" y="745" width="1" height="74" fill="#1b5e20"/>
<rect x="604" y="752" width="3" height="67" fill="#1b5e20"/>
<rect x="610" y="747" width="1" height="26" fill="#801922"/>
<rect x="609" y="752" width="3" height="12" fill="#801922"/>
<rect x="616" y="762" width="1" height="12" fill="#1b5e20"/>
<rect x="615" y="763" width="3" height="1" fill="#1b5e20"/>
<rect x="621" y="743" width="1" height="21" fill="#1b5e20"/>
<rect x="620" y="754" width="3" height="10" fill="#1b5e20"/>
<rect x="627" y="678" width="1" height="83" fill="#1b5e20"/>
<rect x="626" y="693" width="3" height="62" fill="#1b5e20"/>
<rect x="632" y="672" width="1" height="34" fill="#1b5e20"/>
<rect x="631" y="676" width="3" height="18" fill="#1b5e20"/>
<rect x="638" y="671" width="1" height="14" fill="#1b5e20"/>
<rect x="637" y="675" width="3" height="2" fill="#1b5e20"/>
<rect x="643" y="658" width="1" height="26" fill="#1b5e20"/>
<rect x="642" y="672" width="3" height="4" fill="#1b5e20"/>
<rect x="649" y="672" width="1" height="29" fill="#801922"/>
<rect x="648" y="672" width="3" height="26" fill="#801922"/>
<rect x="654" y="695" width="1" height="39" fill="#801922"/>
<rect x="653" y="697" width="3" height="24" fill="#801922"/>
<rect x="659" y="698" width="1" height="29" fill="#1b5e20"/>
<rect x="658" y="718" width="3" height="3" fill="#1b5e20"/>
<rect x="665" y="665" width="1" height="64" fill="#1b5e20"/>
<rect x="664" y="673" width="3" height="46" fill="#1b5e20"/>
<rect x="670" y="659" width="1" height="35" fill="#801922"/>
<rect x="669" y="673" width="3" height="12" fill="#801922"/>
<rect x="676" y="666" width="1" height="21" fill="#1b5e20"/>
<rect x="675" y="679" width="3" height="6" fill="#1b5e20"/>
<rect x="681" y="659" width="1" height="21" fill="#1b5e20"/>
<rect x="680" y="666" width="3" height="14" fill="#1b5e20"/>
<rect x="687" y="586" width="1" height="82" fill="#1b5e20"/>
<rect x="686" y="586" width="3" height="81" fill="#1b5e20"/>
<rect x="692" y="554" width="1" height="47" fill="#1b5e20"/>
<rect x="691" y="563" width="3" height="24" fill="#1b5e20"/>
<rect x="697" y="535" width="1" height="52" fill="#1b5e20"/>
<rect x="696" y="562" width="3" height="1" fill="#1b5e20"/>
<rect x="703" y="519" width="1" height="53" fill="#1b5e20"/>
<rect x="702" y="521" width="3" height="42" fill="#1b5e20"/>
<rect x="708" y="490" width="1" height="38" fill="#1b5e20"/>
<rect x="707" y="515" width="3" height="7" fill="#1b5e20"/>
<rect x="714" y="509" width="1" height="23" fill="#801922"/>
<rect x="713" y="515" width="3" height="10" fill="#801922"/>
<rect x="719" y="509" width="1" height="20" fill="#1b5e20"/>
<rect x="718" y="514" width="3" height="11" fill="#1b5e20"/>
<rect x="725" y="473" width="1" height="50" fill="#1b5e20"/>
<rect x="724" y="473" width="3" height="42" fill="#1b5e20"/>
<rect x="730" y="433" width="1" height="59" fill="#1b5e20"/>
<rect x="729" y="439" width="3" height="35" fill="#1b5e20"/>
<rect x="736" y="437" width="1" height="30" fill="#801922"/>
<rect x="735" y="439" width="3" height="12" fill="#801922"/>
<rect x="741" y="450" width="1" height="26" fill="#801922"/>
<rect x="740" y="450" width="3" height="12" fill="#801922"/>
<rect x="746" y="458" width="1" height="26" fill="#801922"/>
<rect x="745" y="461" width="3" height="22" fill="#801922"/>
<rect x="752" y="451" width="1" height="46" fill="#1b5e20"/>
<rect x="751" y="457" width="3" height="26" fill="#1b5e20"/>
<rect x="757" y="384" width="1" height="89" fill="#1b5e20"/>
<rect x="756" y="388" width="3" height="70" fill="#1b5e20"/>
<rect x="763" y="330" width="1" height="86" fill="#1b5e20"/>
<rect x="762" y="374" width="3" height="15" fill="#1b5e20"/>
<rect x="768" y="371" width="1" height="26" fill="#801922"/>
<rect x="767" y="374" width="3" height="16" fill="#801922"/>
<rect x="774" y="386" width="1" height="23" fill="#801922"/>
<rect x="773" y="389" width="3" height="1" fill="#801922"/>
<rect x="779" y="369" width="1" height="21" fill="#1b5e20"/>
<rect x="778" y="386" width="3" height="4" fill="#1b5e20"/>
<rect x="784" y="378" width="1" height="21" fill="#801922"/>
<rect x="783" y="386" width="3" height="13" fill="#801922"/>
<rect x="790" y="379" width="1" height="28" fill="#801922"/>
<rect x="789" y="398" width="3" height="8" fill="#801922"/>
<rect x="795" y="398" width="1" height="17" fill="#1b5e20"/>
<rect x="794" y="399" width="3" height="7" fill="#1b5e20"/>
<rect x="801" y="383" width="1" height="19" fill="#1b5e20"/>
<rect x="800" y="384" width="3" height="16" fill="#1b5e20"/>
<rect x="806" y="313" width="1" height="79" fill="#1b5e20"/>
<rect x="805" y="333" width="3" height="52" fill="#1b5e20"/>
<rect x="812" y="263" width="1" height="72" fill="#1b5e20"/>
<rect x="811" y="300" width="3" height="34" fill="#1b5e20"/>
<rect x="817" y="295" width="1" height="83" fill="#801922"/>
<rect x="816" y="300" width="3" height="45" fill="#801922"/>
<rect x="823" y="344" width="1" height="28" fill="#801922"/>
<rect x="822" y="344" width="3" height="25" fill="#801922"/>
<rect x="828" y="345" width="1" height="41" fill="#801922"/>
<rect x="827" y="368" width="3" height="9" fill="#801922"/>
<rect x="833" y="342" width="1" height="38" fill="#1b5e20"/>
<rect x="832" y="344" width="3" height="33" fill="#1b5e20"/>
<rect x="839" y="312" width="1" height="45" fill="#1b5e20"/>
<rect x="838" y="331" width="3" height="14" fill="#1b5e20"/>
<rect x="844" y="319" width="1" height="32" fill="#801922"/>
<rect x="843" y="331" width="3" height="17" fill="#801922"/>
<rect x="850" y="305" width="1" height="43" fill="#1b5e20"/>
<rect x="849" y="317" width="3" height="31" fill="#1b5e20"/>
<rect x="855" y="274" width="1" height="44" fill="#1b5e20"/>
<rect x="854" y="292" width="3" height="26" fill="#1b5e20"/>
<rect x="861" y="246" width="1" height="51" fill="#1b5e20"/>
<rect x="860" y="274" width="3" height="19" fill="#1b5e20"/>
<rect x="866" y="270" width="1" height="37" fill="#801922"/>
<rect x="865" y="274" width="3" height="29" fill="#801922"/>
<rect x="871" y="286" width="1" height="35" fill="#801922"/>
<rect x="870" y="301" width="3" height="14" fill="#801922"/>
<rect x="877" y="302" width="1" height="39" fill="#801922"/>
<rect x="876" y="314" width="3" height="24" fill="#801922"/>
<rect x="882" y="307" width="1" height="43" fill="#1b5e20"/>
<rect x="881" y="309" width="3" height="29" fill="#1b5e20"/>
<rect x="888" y="285" width="1" height="142" fill="#801922"/>
<rect x="887" y="309" width="3" height="94" fill="#801922"/>
<rect x="893" y="394" width="1" height="54" fill="#801922"/>
<rect x="892" y="403" width="3" height="9" fill="#801922"/>
<rect x="899" y="387" width="1" height="37" fill="#801922"/>
<rect x="898" y="410" width="3" height="13" fill="#801922"/>
<rect x="904" y="389" width="1" height="36" fill="#1b5e20"/>
<rect x="903" y="420" width="3" height="1" fill="#1b5e20"/>
<rect x="910" y="401" width="1" height="30" fill="#1b5e20"/>
<rect x="909" y="412" width="3" height="9" fill="#1b5e20"/>
<rect x="915" y="354" width="1" height="60" fill="#1b5e20"/>
<rect x="914" y="365" width="3" height="48" fill="#1b5e20"/>
<rect x="920" y="349" width="1" height="60" fill="#801922"/>
<rect x="919" y="365" width="3" height="27" fill="#801922"/>
<rect x="926" y="318" width="1" height="75" fill="#1b5e20"/>
<rect x="925" y="345" width="3" height="47" fill="#1b5e20"/>
<rect x="931" y="335" width="1" height="33" fill="#801922"/>
<rect x="930" y="345" width="3" height="6" fill="#801922"/>
<rect x="937" y="349" width="1" height="67" fill="#801922"/>
<rect x="936" y="350" width="3" height="47" fill="#801922"/>
<rect x="942" y="388" width="1" height="19" fill="#801922"/>
<rect x="941" y="396" width="3" height="6" fill="#801922"/>
<rect x="948" y="368" width="1" height="60" fill="#1b5e20"/>
<rect x="947" y="370" width="3" height="32" fill="#1b5e20"/>
<rect x="953" y="334" width="1" height="110" fill="#801922"/>
<rect x="952" y="370" width="3" height="59" fill="#801922"/>
<rect x="958" y="416" width="1" height="66" fill="#801922"/>
<rect x="957" y="428" width="3" height="8" fill="#801922"/>
<rect x="964" y="406" width="1" height="33" fill="#1b5e20"/>
<rect x="963" y="410" width="3" height="26" fill="#1b5e20"/>
<rect x="969" y="402" width="1" height="35" fill="#801922"/>
<rect x="968" y="410" width="3" height="23" fill="#801922"/>
<rect x="975" y="406" width="1" height="32" fill="#801922"/>
<rect x="974" y="432" width="3" height="5" fill="#801922"/>
<rect x="980" y="405" width="1" height="32" fill="#1b5e20"/>
<rect x="979" y="413" width="3" height="24" fill="#1b5e20"/>
<rect x="986" y="379" width="1" height="144" fill="#801922"/>
<rect x="985" y="413" width="3" height="93" fill="#801922"/>
<rect x="991" y="487" width="1" height="129" fill="#801922"/>
<rect x="990" y="505" width="3" height="86" fill="#801922"/>
<rect x="997" y="571" width="1" height="530" fill="#801922"/>
<rect x="996" y="590" width="3" height="140" fill="#801922"/>
<rect x="1002" y="710" width="1" height="82" fill="#801922"/>
<rect x="1001" y="731" width="3" height="17" fill="#801922"/>
<rect x="1007" y="724" width="1" height="104" fill="#801922"/>
<rect x="1006" y="747" width="3" height="70" fill="#801922"/>
<rect x="1013" y="745" width="1" height="79" fill="#1b5e20"/>
<rect x="1012" y="747" width="3" height="70" fill="#1b5e20"/>
<rect x="1018" y="739" width="1" height="27" fill="#801922"/>
<rect x="1017" y="747" width="3" height="19" fill="#801922"/>
<rect x="1024" y="751" width="1" height="48" fill="#801922"/>
<rect x="1023" y="765" width="3" height="23" fill="#801922"/>
<rect x="1029" y="781" width="1" height="65" fill="#801922"/>
<rect x="1028" y="787" width="3" height="21" fill="#801922"/>
<rect x="1035" y="781" width="1" height="63" fill="#1b5e20"/>
<rect x="1034" y="806" width="3" height="2" fill="#1b5e20"/>
<rect x="1040" y="753" width="1" height="55" fill="#1b5e20"/>
<rect x="1039" y="775" width="3" height="32" fill="#1b5e20"/>
<rect x="1045" y="753" width="1" height="36" fill="#1b5e20"/>
<rect x="1044" y="763" width="3" height="13" fill="#1b5e20"/>
<rect x="1051" y="695" width="1" height="92" fill="#1b5e20"/>
<rect x="1050" y="714" width="3" height="50" fill="#1b5e20"/>
<rect x="1056" y="660" width="1" height="55" fill="#1b5e20"/>
<rect x="1055" y="673" width="3" height="42" fill="#1b5e20"/>
<rect x="1062" y="623" width="1" height="53" fill="#1b5e20"/>
<rect x="1061" y="651" width="3" height="23" fill="#1b5e20"/>
<rect x="1067" y="615" width="1" height="48" fill="#801922"/>
<rect x="1066" y="651" width="3" height="6" fill="#801922"/>
<rect x="1073" y="630" width="1" height="41" fill="#1b5e20"/>
<rect x="1072" y="635" width="3" height="22" fill="#1b5e20"/>
<rect x="1078" y="634" width="1" height="66" fill="#801922"/>
<rect x="1077" y="635" width="3" height="44" fill="#801922"/>
<rect x="1084" y="630" width="1" height="63" fill="#1b5e20"/>
<rect x="1083" y="674" width="3" height="5" fill="#1b5e20"/>
<rect x="1089" y="618" width="1" height="60" fill="#1b5e20"/>
<rect x="1088" y="621" width="3" height="54" fill="#1b5e20"/>
<rect x="1094" y="618" width="1" height="31" fill="#801922"/>
<rect x="1093" y="621" width="3" height="23" fill="#801922"/>
<rect x="1100" y="635" width="1" height="77" fill="#801922"/>
<rect x="1099" y="644" width="3" height="61" fill="#801922"/>
<rect x="1105" y="697" width="1" height="84" fill="#801922"/>
<rect x="1104" y="704" width="3" height="64" fill="#801922"/>
<rect x="1111" y="753" width="1" height="76" fill="#801922"/>
<rect x="1110" y="767" width="3" height="16" fill="#801922"/>
<rect x="1116" y="725" width="1" height="110" fill="#1b5e20"/>
<rect x="1115" y="726" width="3" height="57" fill="#1b5e20"/>
<rect x="1122" y="703" width="1" height="66" fill="#801922"/>
<rect x="1121" y="725" width="3" height="12" fill="#801922"/>
<rect x="1127" y="702" width="1" height="48" fill="#1b5e20"/>
<rect x="1126" y="721" width="3" height="16" fill="#1b5e20"/>
<rect x="1132" y="700" width="1" height="64" fill="#801922"/>
<rect x="1131" y="721" width="3" height="37" fill="#801922"/>
<rect x="1138" y="733" width="1" height="34" fill="#1b5e20"/>
<rect x="1137" y="737" width="3" height="21" fill="#1b5e20"/>
<rect x="1143" y="703" width="1" height="66" fill="#801922"/>
<rect x="1142" y="737" width="3" height="24" fill="#801922"/>
<rect x="1149" y="750" width="1" height="66" fill="#801922"/>
<rect x="1148" y="761" width="3" height="41" fill="#801922"/>
<rect x="1154" y="774" width="1" height="50" fill="#1b5e20"/>
<rect x="1153" y="784" width="3" height="18" fill="#1b5e20"/>
<rect x="1160" y="774" width="1" height="38" fill="#801922"/>
<rect x="1159" y="784" width="3" height="20" fill="#801922"/>
<rect x="1165" y="764" width="1" height="53" fill="#1b5e20"/>
<rect x="1164" y="782" width="3" height="22" fill="#1b5e20"/>
<rect x="1171" y="767" width="1" height="43" fill="#801922"/>
<rect x="1170" y="782" width="3" height="28" fill="#801922"/>
<rect x="1176" y="768" width="1" height="75" fill="#1b5e20"/>
<rect x="1175" y="779" width="3" height="31" fill="#1b5e20"/>
<rect x="1181" y="758" width="1" height="131" fill="#801922"/>
<rect x="1180" y="779" width="3" height="104" fill="#801922"/>
<rect x="1187" y="857" width="1" height="60" fill="#801922"/>
<rect x="1186" y="882" width="3" height="14" fill="#801922"/>
<rect x="1192" y="884" width="1" height="39" fill="#1b5e20"/>
<rect x="1191" y="895" width="3" height="1" fill="#1b5e20"/>
<rect x="1198" y="858" width="1" height="47" fill="#1b5e20"/>
<rect x="1197" y="860" width="3" height="36" fill="#1b5e20"/>
<rect x="1203" y="858" width="1" height="133" fill="#801922"/>
<rect x="1202" y="860" width="3" height="129" fill="#801922"/>
<rect x="1209" y="953" width="1" height="111" fill="#1b5e20"/>
<rect x="1208" y="985" width="3" height="4" fill="#1b5e20"/>
<rect x="1214" y="944" width="1" height="83" fill="#1b5e20"/>
<rect x="1213" y="945" width="3" height="41" fill="#1b5e20"/>
<rect x="1219" y="918" width="1" height="55" fill="#801922"/>
<rect x="1218" y="945" width="3" height="14" fill="#801922"/>
<rect x="1225" y="922" width="1" height="40" fill="#801922"/>
<rect x="1224" y="958" width="3" height="2" fill="#801922"/>
<rect x="1230" y="928" width="1" height="35" fill="#1b5e20"/>
<rect x="1229" y="936" width="3" height="23" fill="#1b5e20"/>
<rect x="1236" y="921" width="1" height="37" fill="#801922"/>
<rect x="1235" y="936" width="3" height="14" fill="#801922"/>
<rect x="1241" y="930" width="1" height="22" fill="#1b5e20"/>
<rect x="1240" y="931" width="3" height="19" fill="#1b5e20"/>
<rect x="1247" y="928" width="1" height="20" fill="#801922"/>
<rect x="1246" y="931" width="3" height="10" fill="#801922"/>
<rect x="1252" y="935" width="1" height="22" fill="#1b5e20"/>
<rect x="1251" y="936" width="3" height="5" fill="#1b5e20"/>
<rect x="1258" y="926" width="1" height="18" fill="#1b5e20"/>
<rect x="1257" y="932" width="3" height="5" fill="#1b5e20"/>
<rect x="1263" y="925" width="1" height="22" fill="#1b5e20"/>
<rect x="1262" y="929" width="3" height="4" fill="#1b5e20"/>
<rect x="1268" y="928" width="1" height="26" fill="#801922"/>
<rect x="1267" y="929" width="3" height="18" fill="#801922"/>
<rect x="1274" y="893" width="1" height="77" fill="#1b5e20"/>
<rect x="1273" y="910" width="3" height="37" fill="#1b5e20"/>
<rect x="1279" y="880" width="1" height="45" fill="#1b5e20"/>
<rect x="1278" y="885" width="3" height="26" fill="#1b5e20"/>
<rect x="1285" y="850" width="1" height="43" fill="#1b5e20"/>
<rect x="1284" y="869" width="3" height="17" fill="#1b5e20"/>
<rect x="1290" y="853" width="1" height="32" fill="#801922"/>
<rect x="1289" y="869" width="3" height="11" fill="#801922"/>
<rect x="1296" y="815" width="1" height="108" fill="#1b5e20"/>
<rect x="1295" y="825" width="3" height="55" fill="#1b5e20"/>
<rect x="1301" y="780" width="1" height="52" fill="#1b5e20"/>
<rect x="1300" y="787" width="3" height="39" fill="#1b5e20"/>
<rect x="1306" y="771" width="1" height="37" fill="#801922"/>
<rect x="1305" y="788" width="3" height="7" fill="#801922"/>
<rect x="1312" y="769" width="1" height="39" fill="#1b5e20"/>
<rect x="1311" y="789" width="3" height="6" fill="#1b5e20"/>
<rect x="1317" y="783" width="1" height="52" fill="#801922"/>
<rect x="1316" y="789" width="3" height="12" fill="#801922"/>
<rect x="1323" y="785" width="1" height="30" fill="#801922"/>
<rect x="1322" y="801" width="3" height="11" fill="#801922"/>
<rect x="1328" y="811" width="1" height="53" fill="#801922"/>
<rect x="1327" y="811" width="3" height="53" fill="#801922"/>
<rect x="1334" y="863" width="1" height="58" fill="#801922"/>
<rect x="1333" y="863" width="3" height="37" fill="#801922"/>
<rect x="1339" y="872" width="1" height="48" fill="#1b5e20"/>
<rect x="1338" y="881" width="3" height="19" fill="#1b5e20"/>
<rect x="1345" y="702" width="1" height="203" fill="#1b5e20"/>
<rect x="1344" y="706" width="3" height="176" fill="#1b5e20"/>
<rect x="1350" y="687" width="1" height="95" fill="#801922"/>
<rect x="1349" y="707" width="3" height="60" fill="#801922"/>
<rect x="1355" y="765" width="1" height="135" fill="#801922"/>
<rect x="1354" y="766" width="3" height="126" fill="#801922"/>
<rect x="1361" y="878" width="1" height="29" fill="#801922"/>
<rect x="1360" y="891" width="3" height="5" fill="#801922"/>
<rect x="1366" y="879" width="1" height="37" fill="#1b5e20"/>
<rect x="1365" y="891" width="3" height="4" fill="#1b5e20"/>
<rect x="1372" y="890" width="1" height="59" fill="#801922"/>
<rect x="1371" y="891" width="3" height="28" fill="#801922"/>
<rect x="1377" y="860" width="1" height="62" fill="#1b5e20"/>
<rect x="1376" y="887" width="3" height="32" fill="#1b5e20"/>
<rect x="1383" y="873" width="1" height="48" fill="#801922"/>
<rect x="1382" y="887" width="3" height="20" fill="#801922"/>
<rect x="1388" y="900" width="1" height="50" fill="#801922"/>
<rect x="1387" y="907" width="3" height="11" fill="#801922"/>
<rect x="1393" y="876" width="1" height="44" fill="#1b5e20"/>
<rect x="1392" y="889" width="3" height="29" fill="#1b5e20"/>
<rect x="1399" y="819" width="1" height="70" fill="#1b5e20"/>
<rect x="1398" y="857" width="3" height="32" fill="#1b5e20"/>
<rect x="1404" y="834" width="1" height="28" fill="#801922"/>
<rect x="1403" y="856" width="3" height="2" fill="#801922"/>
<rect x="1410" y="826" width="1" height="51" fill="#1b5e20"/>
<rect x="1409" y="833" width="3" height="25" fill="#1b5e20"/>
<rect x="1415" y="783" width="1" height="60" fill="#1b5e20"/>
<rect x="1414" y="823" width="3" height="11" fill="#1b5e20"/>
<rect x="1421" y="823" width="1" height="31" fill="#801922"/>
<rect x="1420" y="823" width="3" height="6" fill="#801922"/>
<rect x="1426" y="800" width="1" height="30" fill="#1b5e20"/>
<rect x="1425" y="814" width="3" height="15" fill="#1b5e20"/>
<rect x="1432" y="775" width="1" height="42" fill="#1b5e20"/>
<rect x="1431" y="792" width="3" height="23" fill="#1b5e20"/>
<rect x="1437" y="777" width="1" height="31" fill="#1b5e20"/>
<rect x="1436" y="792" width="3" height="1" fill="#1b5e20"/>
<rect x="1442" y="753" width="1" height="88" fill="#801922"/>
<rect x="1441" y="792" width="3" height="37" fill="#801922"/>
<rect x="1448" y="796" width="1" height="41" fill="#1b5e20"/>
<rect x="1447" y="808" width="3" height="21" fill="#1b5e20"/>
<rect x="1453" y="789" width="1" height="24" fill="#1b5e20"/>
<rect x="1452" y="794" width="3" height="15" fill="#1b5e20"/>
<rect x="1459" y="786" width="1" height="20" fill="#1b5e20"/>
<rect x="1458" y="793" width="3" height="2" fill="#1b5e20"/>
<rect x="1464" y="765" width="1" height="29" fill="#1b5e20"/>
<rect x="1463" y="776" width="3" height="18" fill="#1b5e20"/>
<rect x="1470" y="764" width="1" height="16" fill="#1b5e20"/>
<rect x="1469" y="774" width="3" height="3" fill="#1b5e20"/>
<rect x="1475" y="760" width="1" height="22" fill="#801922"/>
<rect x="1474" y="774" width="3" height="7" fill="#801922"/>
<rect x="1480" y="768" width="1" height="20" fill="#1b5e20"/>
<rect x="1479" y="771" width="3" height="10" fill="#1b5e20"/>
<rect x="1486" y="769" width="1" height="13" fill="#1b5e20"/>
<rect x="1485" y="770" width="3" height="1" fill="#1b5e20"/>
<rect x="1491" y="762" width="1" height="23" fill="#801922"/>
<rect x="1490" y="770" width="3" height="15" fill="#801922"/>
<rect x="1497" y="768" width="1" height="17" fill="#1b5e20"/>
<rect x="1496" y="768" width="3" height="17" fill="#1b5e20"/>
<rect x="1502" y="705" width="1" height="64" fill="#1b5e20"/>
<rect x="1501" y="712" width="3" height="57" fill="#1b5e20"/>
<rect x="1508" y="685" width="1" height="28" fill="#1b5e20"/>
<rect x="1507" y="697" width="3" height="16" fill="#1b5e20"/>
<rect x="1513" y="694" width="1" height="18" fill="#801922"/>
<rect x="1512" y="697" width="3" height="5" fill="#801922"/>
<rect x="1519" y="630" width="1" height="95" fill="#1b5e20"/>
<rect x="1518" y="666" width="3" height="36" fill="#1b5e20"/>
<rect x="1524" y="634" width="1" height="39" fill="#1b5e20"/>
<rect x="1523" y="651" width="3" height="16" fill="#1b5e20"/>
<rect x="1529" y="599" width="1" height="53" fill="#1b5e20"/>
<rect x="1528" y="630" width="3" height="22" fill="#1b5e20"/>
<rect x="1535" y="628" width="1" height="4" fill="#801922"/>
<rect x="1534" y="630" width="3" height="1" fill="#801922"/>
</g>
<g shape-rendering="crispEdges">
<line x1="10" y1="630.5" x2="2112" y2="630.5" stroke="#434651" stroke-width="1" stroke-dasharray="1 2"/>
</g>
<g fill="none" stroke="#0c0e15" stroke-width="1.2" stroke-linecap="round">
<path d="M1556.4 636.3 L1611.9 716.9 M1604 715.6 L1611.9 716.9 L1612.8 709.8"/>
<path d="M1621.7 722.8 L1752.4 356.9 M1745.6 359.8 L1752.4 356.9 L1755.7 363.6"/>
</g>
<text x="1221.0" y="431.7" font-size="13.6" font-style="italic" fill="#0c0e15" stroke="#0c0e15" stroke-width="0.25" textLength="267.6" lengthAdjust="spacingAndGlyphs">Potential area to break before a new ATH.</text>
<text y="1020.8" font-size="16.3" font-style="italic" fill="#0c0e15" stroke="#0c0e15" stroke-width="0.25"><tspan x="6.9" textLength="13.4" lengthAdjust="spacingAndGlyphs">rt</tspan><tspan x="22.4" textLength="124.6" lengthAdjust="spacingAndGlyphs"> looking for buys.</tspan></text>
<g>
<circle cx="1535.6" cy="1172.3" r="11.2" fill="#fff"/>
<circle cx="1535.6" cy="1172.3" r="9.8" fill="#fff" stroke="#9c27b0" stroke-width="1.4"/>
<path d="M1537.9 1167.1 L1531.4 1172.6 L1535 1172.9 L1532.2 1177.9 L1539.8 1172.2 L1536.4 1171.9 Z" fill="#9c27b0"/>
<circle cx="1542.4" cy="1165.5" r="3.9" fill="#fff"/>
<circle cx="1542.4" cy="1165.5" r="2.6" fill="#f23645"/>
</g>
</g>
<text x="18.3" y="161.3" font-size="12" fill="#50535e" stroke="#50535e" stroke-width="0.2" textLength="157.6" lengthAdjust="spacingAndGlyphs">Bitcoin / Tether · 4h · KuCoin</text>
<text x="183.9" y="161.3" font-size="12" fill="#50535e" stroke="#50535e" stroke-width="0.2" textLength="7.9" lengthAdjust="spacingAndGlyphs">O</text>
<text x="193.0" y="161.3" font-size="12" fill="#801922" stroke="#801922" stroke-width="0.2" textLength="51.2" lengthAdjust="spacingAndGlyphs">115,551.0</text>
<text x="251.5" y="161.3" font-size="12" fill="#50535e" stroke="#50535e" stroke-width="0.2" textLength="7.2" lengthAdjust="spacingAndGlyphs">H</text>
<text x="260.0" y="161.3" font-size="12" fill="#801922" stroke="#801922" stroke-width="0.2" textLength="51.9" lengthAdjust="spacingAndGlyphs">115,600.0</text>
<text x="319.6" y="161.3" font-size="12" fill="#50535e" stroke="#50535e" stroke-width="0.2" textLength="6.0" lengthAdjust="spacingAndGlyphs">L</text>
<text x="326.8" y="161.3" font-size="12" fill="#801922" stroke="#801922" stroke-width="0.2" textLength="51.2" lengthAdjust="spacingAndGlyphs">115,487.6</text>
<text x="385.9" y="161.3" font-size="12" fill="#50535e" stroke="#50535e" stroke-width="0.2" textLength="6.9" lengthAdjust="spacingAndGlyphs">C</text>
<text x="393.3" y="161.3" font-size="12" fill="#801922" stroke="#801922" stroke-width="0.2" textLength="52.1" lengthAdjust="spacingAndGlyphs">115,541.6</text>
<text x="453.4" y="161.3" font-size="12" fill="#801922" stroke="#801922" stroke-width="0.2" textLength="71.4" lengthAdjust="spacingAndGlyphs">−9.4 (−0.01%)</text>
<g shape-rendering="crispEdges">
<rect x="10" y="141" width="2183" height="1" fill="#2a2e39"/>
<rect x="10" y="1185" width="2183" height="1" fill="#50535e"/>
<rect x="2111" y="27" width="1" height="1190" fill="#50535e"/>
</g>
<text x="2121.4" y="44.7" font-size="13.4" fill="#50535e" stroke="#50535e" stroke-width="0.2" textLength="33.7" lengthAdjust="spacingAndGlyphs">80.00</text>
<text x="2121.4" y="80.8" font-size="13.4" fill="#50535e" stroke="#50535e" stroke-width="0.2" textLength="33.7" lengthAdjust="spacingAndGlyphs">60.00</text>
<text x="2121.4" y="117.8" font-size="13.4" fill="#50535e" stroke="#50535e" stroke-width="0.2" textLength="33.7" lengthAdjust="spacingAndGlyphs">40.00</text>
<text x="2121.5" y="185.1" font-size="13.4" fill="#50535e" stroke="#50535e" stroke-width="0.2" textLength="61.1" lengthAdjust="spacingAndGlyphs">128,000.0</text>
<text x="2121.5" y="221.2" font-size="13.4" fill="#50535e" stroke="#50535e" stroke-width="0.2" textLength="61.1" lengthAdjust="spacingAndGlyphs">127,000.0</text>
<text x="2121.5" y="257.2" font-size="13.4" fill="#50535e" stroke="#50535e" stroke-width="0.2" textLength="61.1" lengthAdjust="spacingAndGlyphs">126,000.0</text>
<text x="2121.5" y="293.3" font-size="13.4" fill="#50535e" stroke="#50535e" stroke-width="0.2" textLength="61.1" lengthAdjust="spacingAndGlyphs">125,000.0</text>
<text x="2121.5" y="329.3" font-size="13.4" fill="#50535e" stroke="#50535e" stroke-width="0.2" textLength="61.1" lengthAdjust="spacingAndGlyphs">124,000.0</text>
<text x="2121.5" y="365.4" font-size="13.4" fill="#50535e" stroke="#50535e" stroke-width="0.2" textLength="61.1" lengthAdjust="spacingAndGlyphs">123,000.0</text>
<text x="2121.5" y="401.4" font-size="13.4" fill="#50535e" stroke="#50535e" stroke-width="0.2" textLength="61.1" lengthAdjust="spacingAndGlyphs">122,000.0</text>
<text x="2121.5" y="437.5" font-size="13.4" fill="#50535e" stroke="#50535e" stroke-width="0.2" textLength="61.1" lengthAdjust="spacingAndGlyphs">121,000.0</text>
<text x="2121.5" y="473.5" font-size="13.4" fill="#50535e" stroke="#50535e" stroke-width="0.2" textLength="61.1" lengthAdjust="spacingAndGlyphs">120,000.0</text>
<text x="2121.5" y="509.6" font-size="13.4" fill="#50535e" stroke="#50535e" stroke-width="0.2" textLength="61.1" lengthAdjust="spacingAndGlyphs">119,000.0</text>
<text x="2121.5" y="545.7" font-size="13.4" fill="#50535e" stroke="#50535e" stroke-width="0.2" textLength="61.1" lengthAdjust="spacingAndGlyphs">118,000.0</text>
<text x="2121.5" y="581.7" font-size="13.4" fill="#50535e" stroke="#50535e" stroke-width="0.2" textLength="61.1" lengthAdjust="spacingAndGlyphs">117,000.0</text>
<text x="2121.5" y="617.8" font-size="13.4" fill="#50535e" stroke="#50535e" stroke-width="0.2" textLength="61.1" lengthAdjust="spacingAndGlyphs">116,000.0</text>
<text x="2121.5" y="653.8" font-size="13.4" fill="#50535e" stroke="#50535e" stroke-width="0.2" textLength="61.1" lengthAdjust="spacingAndGlyphs">115,000.0</text>
<text x="2121.5" y="689.9" font-size="13.4" fill="#50535e" stroke="#50535e" stroke-width="0.2" textLength="61.1" lengthAdjust="spacingAndGlyphs">114,000.0</text>
<text x="2121.5" y="725.9" font-size="13.4" fill="#50535e" stroke="#50535e" stroke-width="0.2" textLength="61.1" lengthAdjust="spacingAndGlyphs">113,000.0</text>
<text x="2121.5" y="762.0" font-size="13.4" fill="#50535e" stroke="#50535e" stroke-width="0.2" textLength="61.1" lengthAdjust="spacingAndGlyphs">112,000.0</text>
<text x="2121.5" y="798.0" font-size="13.4" fill="#50535e" stroke="#50535e" stroke-width="0.2" textLength="61.1" lengthAdjust="spacingAndGlyphs">111,000.0</text>
<text x="2121.5" y="834.1" font-size="13.4" fill="#50535e" stroke="#50535e" stroke-width="0.2" textLength="61.1" lengthAdjust="spacingAndGlyphs">110,000.0</text>
<text x="2121.5" y="870.2" font-size="13.4" fill="#50535e" stroke="#50535e" stroke-width="0.2" textLength="61.1" lengthAdjust="spacingAndGlyphs">109,000.0</text>
<text x="2121.5" y="906.2" font-size="13.4" fill="#50535e" stroke="#50535e" stroke-width="0.2" textLength="61.1" lengthAdjust="spacingAndGlyphs">108,000.0</text>
<text x="2121.5" y="942.3" font-size="13.4" fill="#50535e" stroke="#50535e" stroke-width="0.2" textLength="61.1" lengthAdjust="spacingAndGlyphs">107,000.0</text>
<text x="2121.5" y="978.3" font-size="13.4" fill="#50535e" stroke="#50535e" stroke-width="0.2" textLength="61.1" lengthAdjust="spacingAndGlyphs">106,000.0</text>
<text x="2121.5" y="1014.4" font-size="13.4" fill="#50535e" stroke="#50535e" stroke-width="0.2" textLength="61.1" lengthAdjust="spacingAndGlyphs">105,000.0</text>
<text x="2121.5" y="1050.4" font-size="13.4" fill="#50535e" stroke="#50535e" stroke-width="0.2" textLength="61.1" lengthAdjust="spacingAndGlyphs">104,000.0</text>
<text x="2121.5" y="1086.5" font-size="13.4" fill="#50535e" stroke="#50535e" stroke-width="0.2" textLength="61.1" lengthAdjust="spacingAndGlyphs">103,000.0</text>
<text x="2121.5" y="1122.5" font-size="13.4" fill="#50535e" stroke="#50535e" stroke-width="0.2" textLength="61.1" lengthAdjust="spacingAndGlyphs">102,000.0</text>
<text x="2121.5" y="1158.6" font-size="13.4" fill="#50535e" stroke="#50535e" stroke-width="0.2" textLength="61.1" lengthAdjust="spacingAndGlyphs">101,000.0</text>
<rect x="2112" y="142" width="80.8" height="35.7" fill="#b2b5be"/>
<rect x="2114.5" y="145.6" width="74.8" height="26.7" rx="4" fill="#fff"/>
<text x="2124.3" y="164.2" font-size="12.7" fill="#131722" stroke="#131722" stroke-width="0.25" textLength="27.4" lengthAdjust="spacingAndGlyphs">USDT</text>
<path d="M2112 340.9 H2186 a2 2 0 0 1 2 2 V359.6 a2 2 0 0 1 -2 2 H2112 Z" fill="#801922"/>
<text x="2121.5" y="356.2" font-size="13.4" fill="#fff" font-weight="bold" textLength="61.1" lengthAdjust="spacingAndGlyphs">123,288.0</text>
<path d="M2112 476.9 H2186 a2 2 0 0 1 2 2 V495.6 a2 2 0 0 1 -2 2 H2112 Z" fill="#000"/>
<text x="2121.5" y="492.2" font-size="13.4" fill="#fff" font-weight="bold" textLength="61.1" lengthAdjust="spacingAndGlyphs">119,504.8</text>
<path d="M2112 751.0 H2186 a2 2 0 0 1 2 2 V769.8 a2 2 0 0 1 -2 2 H2112 Z" fill="#801922"/>
<text x="2121.5" y="766.3" font-size="13.4" fill="#fff" font-weight="bold" textLength="61.1" lengthAdjust="spacingAndGlyphs">111,918.6</text>
<path d="M2112 919.0 H2186 a2 2 0 0 1 2 2 V937.8 a2 2 0 0 1 -2 2 H2112 Z" fill="#1b5e20"/>
<text x="2121.5" y="934.3" font-size="13.4" fill="#fff" font-weight="bold" textLength="61.1" lengthAdjust="spacingAndGlyphs">107,260.0</text>
<path d="M2112 1066.1 H2186 a2 2 0 0 1 2 2 V1084.8 a2 2 0 0 1 -2 2 H2112 Z" fill="#000"/>
<text x="2121.5" y="1081.3" font-size="13.4" fill="#fff" font-weight="bold" textLength="61.1" lengthAdjust="spacingAndGlyphs">103,190.6</text>
<path d="M2112 1154.1 H2186 a2 2 0 0 1 2 2 V1172.8 a2 2 0 0 1 -2 2 H2112 Z" fill="#000"/>
<text x="2121.5" y="1169.3" font-size="13.4" fill="#fff" font-weight="bold" textLength="61.1" lengthAdjust="spacingAndGlyphs">100,739.3</text>
<path d="M2112 620 H2186 a2 2 0 0 1 2 2 V654.7 a2 2 0 0 1 -2 2 H2112 Z" fill="#434651"/>
<text x="2121.5" y="635.3" font-size="13.4" fill="#fff" font-weight="bold" textLength="61.1" lengthAdjust="spacingAndGlyphs">115,541.6</text>
<text x="2121.0" y="651.2" font-size="13.4" fill="#d6d8de" textLength="53.3" lengthAdjust="spacingAndGlyphs">03:52:21</text>
<text x="16.1" y="1205.1" font-size="13.4" fill="#50535e" stroke="#50535e" stroke-width="0.2" textLength="14.4" lengthAdjust="spacingAndGlyphs">11</text>
<text x="81.3" y="1205.1" font-size="13.4" fill="#50535e" stroke="#50535e" stroke-width="0.2" textLength="14.4" lengthAdjust="spacingAndGlyphs">13</text>
<text x="146.6" y="1205.1" font-size="13.4" fill="#50535e" stroke="#50535e" stroke-width="0.2" textLength="14.4" lengthAdjust="spacingAndGlyphs">15</text>
<text x="211.9" y="1205.1" font-size="13.4" fill="#50535e" stroke="#50535e" stroke-width="0.2" textLength="14.4" lengthAdjust="spacingAndGlyphs">17</text>
<text x="277.1" y="1205.1" font-size="13.4" fill="#50535e" stroke="#50535e" stroke-width="0.2" textLength="14.4" lengthAdjust="spacingAndGlyphs">19</text>
<text x="342.4" y="1205.1" font-size="13.4" fill="#50535e" stroke="#50535e" stroke-width="0.2" textLength="14.4" lengthAdjust="spacingAndGlyphs">21</text>
<text x="407.6" y="1205.1" font-size="13.4" fill="#50535e" stroke="#50535e" stroke-width="0.2" textLength="14.4" lengthAdjust="spacingAndGlyphs">23</text>
<text x="472.9" y="1205.1" font-size="13.4" fill="#50535e" stroke="#50535e" stroke-width="0.2" textLength="14.4" lengthAdjust="spacingAndGlyphs">25</text>
<text x="538.1" y="1205.1" font-size="13.4" fill="#50535e" stroke="#50535e" stroke-width="0.2" textLength="14.4" lengthAdjust="spacingAndGlyphs">27</text>
<text x="603.3" y="1205.1" font-size="13.4" fill="#50535e" stroke="#50535e" stroke-width="0.2" textLength="14.4" lengthAdjust="spacingAndGlyphs">29</text>
<text x="663.9" y="1205.1" font-size="13.4" fill="#50535e" font-weight="bold" textLength="23.8" lengthAdjust="spacingAndGlyphs">Oct</text>
<text x="737.5" y="1205.1" font-size="13.4" fill="#50535e" stroke="#50535e" stroke-width="0.2" textLength="7.0" lengthAdjust="spacingAndGlyphs">3</text>
<text x="802.8" y="1205.1" font-size="13.4" fill="#50535e" stroke="#50535e" stroke-width="0.2" textLength="7.0" lengthAdjust="spacingAndGlyphs">5</text>
<text x="868.0" y="1205.1" font-size="13.4" fill="#50535e" stroke="#50535e" stroke-width="0.2" textLength="7.0" lengthAdjust="spacingAndGlyphs">7</text>
<text x="933.3" y="1205.1" font-size="13.4" fill="#50535e" stroke="#50535e" stroke-width="0.2" textLength="7.0" lengthAdjust="spacingAndGlyphs">9</text>
<text x="994.8" y="1205.1" font-size="13.4" fill="#50535e" stroke="#50535e" stroke-width="0.2" textLength="14.4" lengthAdjust="spacingAndGlyphs">11</text>
<text x="1060.1" y="1205.1" font-size="13.4" fill="#50535e" stroke="#50535e" stroke-width="0.2" textLength="14.4" lengthAdjust="spacingAndGlyphs">13</text>
<text x="1125.3" y="1205.1" font-size="13.4" fill="#50535e" stroke="#50535e" stroke-width="0.2" textLength="14.4" lengthAdjust="spacingAndGlyphs">15</text>
<text x="1190.6" y="1205.1" font-size="13.4" fill="#50535e" stroke="#50535e" stroke-width="0.2" textLength="14.4" lengthAdjust="spacingAndGlyphs">17</text>
<text x="1255.8" y="1205.1" font-size="13.4" fill="#50535e" stroke="#50535e" stroke-width="0.2" textLength="14.4" lengthAdjust="spacingAndGlyphs">19</text>
<text x="1321.1" y="1205.1" font-size="13.4" fill="#50535e" stroke="#50535e" stroke-width="0.2" textLength="14.4" lengthAdjust="spacingAndGlyphs">21</text>
<text x="1386.3" y="1205.1" font-size="13.4" fill="#50535e" stroke="#50535e" stroke-width="0.2" textLength="14.4" lengthAdjust="spacingAndGlyphs">23</text>
<text x="1451.6" y="1205.1" font-size="13.4" fill="#50535e" stroke="#50535e" stroke-width="0.2" textLength="14.4" lengthAdjust="spacingAndGlyphs">25</text>
<text x="1516.8" y="1205.1" font-size="13.4" fill="#50535e" stroke="#50535e" stroke-width="0.2" textLength="14.4" lengthAdjust="spacingAndGlyphs">27</text>
<text x="1582.1" y="1205.1" font-size="13.4" fill="#50535e" stroke="#50535e" stroke-width="0.2" textLength="14.4" lengthAdjust="spacingAndGlyphs">29</text>
<text x="1675.3" y="1205.1" font-size="13.4" fill="#50535e" font-weight="bold" textLength="23.8" lengthAdjust="spacingAndGlyphs">Nov</text>
<text x="1748.9" y="1205.1" font-size="13.4" fill="#50535e" stroke="#50535e" stroke-width="0.2" textLength="7.0" lengthAdjust="spacingAndGlyphs">3</text>
<text x="1814.2" y="1205.1" font-size="13.4" fill="#50535e" stroke="#50535e" stroke-width="0.2" textLength="7.0" lengthAdjust="spacingAndGlyphs">5</text>
<text x="1879.4" y="1205.1" font-size="13.4" fill="#50535e" stroke="#50535e" stroke-width="0.2" textLength="7.0" lengthAdjust="spacingAndGlyphs">7</text>
<text x="1944.7" y="1205.1" font-size="13.4" fill="#50535e" stroke="#50535e" stroke-width="0.2" textLength="7.0" lengthAdjust="spacingAndGlyphs">9</text>
<text x="2006.2" y="1205.1" font-size="13.4" fill="#50535e" stroke="#50535e" stroke-width="0.2" textLength="14.4" lengthAdjust="spacingAndGlyphs">11</text>
<text x="2071.5" y="1205.1" font-size="13.4" fill="#50535e" stroke="#50535e" stroke-width="0.2" textLength="14.4" lengthAdjust="spacingAndGlyphs">13</text>
<text x="10.2" y="18.9" font-size="12.9" fill="#dedede" stroke="#dedede" stroke-width="0.5" textLength="374.7" lengthAdjust="spacingAndGlyphs">CryptoMichNL created with TradingView.com, Oct 27, 2025 08:07 UTC</text>
<g fill="#e1e1e1">
<path d="M11.9 1239 H24 V1254 H17.7 V1245.2 H11.9 Z"/>
<circle cx="28.9" cy="1241.9" r="3.05"/>
<path d="M34.4 1239 H41.9 L36.4 1254 H28.9 Z"/>
</g>
<text x="49.3" y="1254" font-size="20.9" font-weight="bold" fill="#e1e1e1" stroke="#e1e1e1" stroke-width="0.45" textLength="120.5" lengthAdjust="spacingAndGlyphs">TradingView</text>
</svg>
</body></html>
